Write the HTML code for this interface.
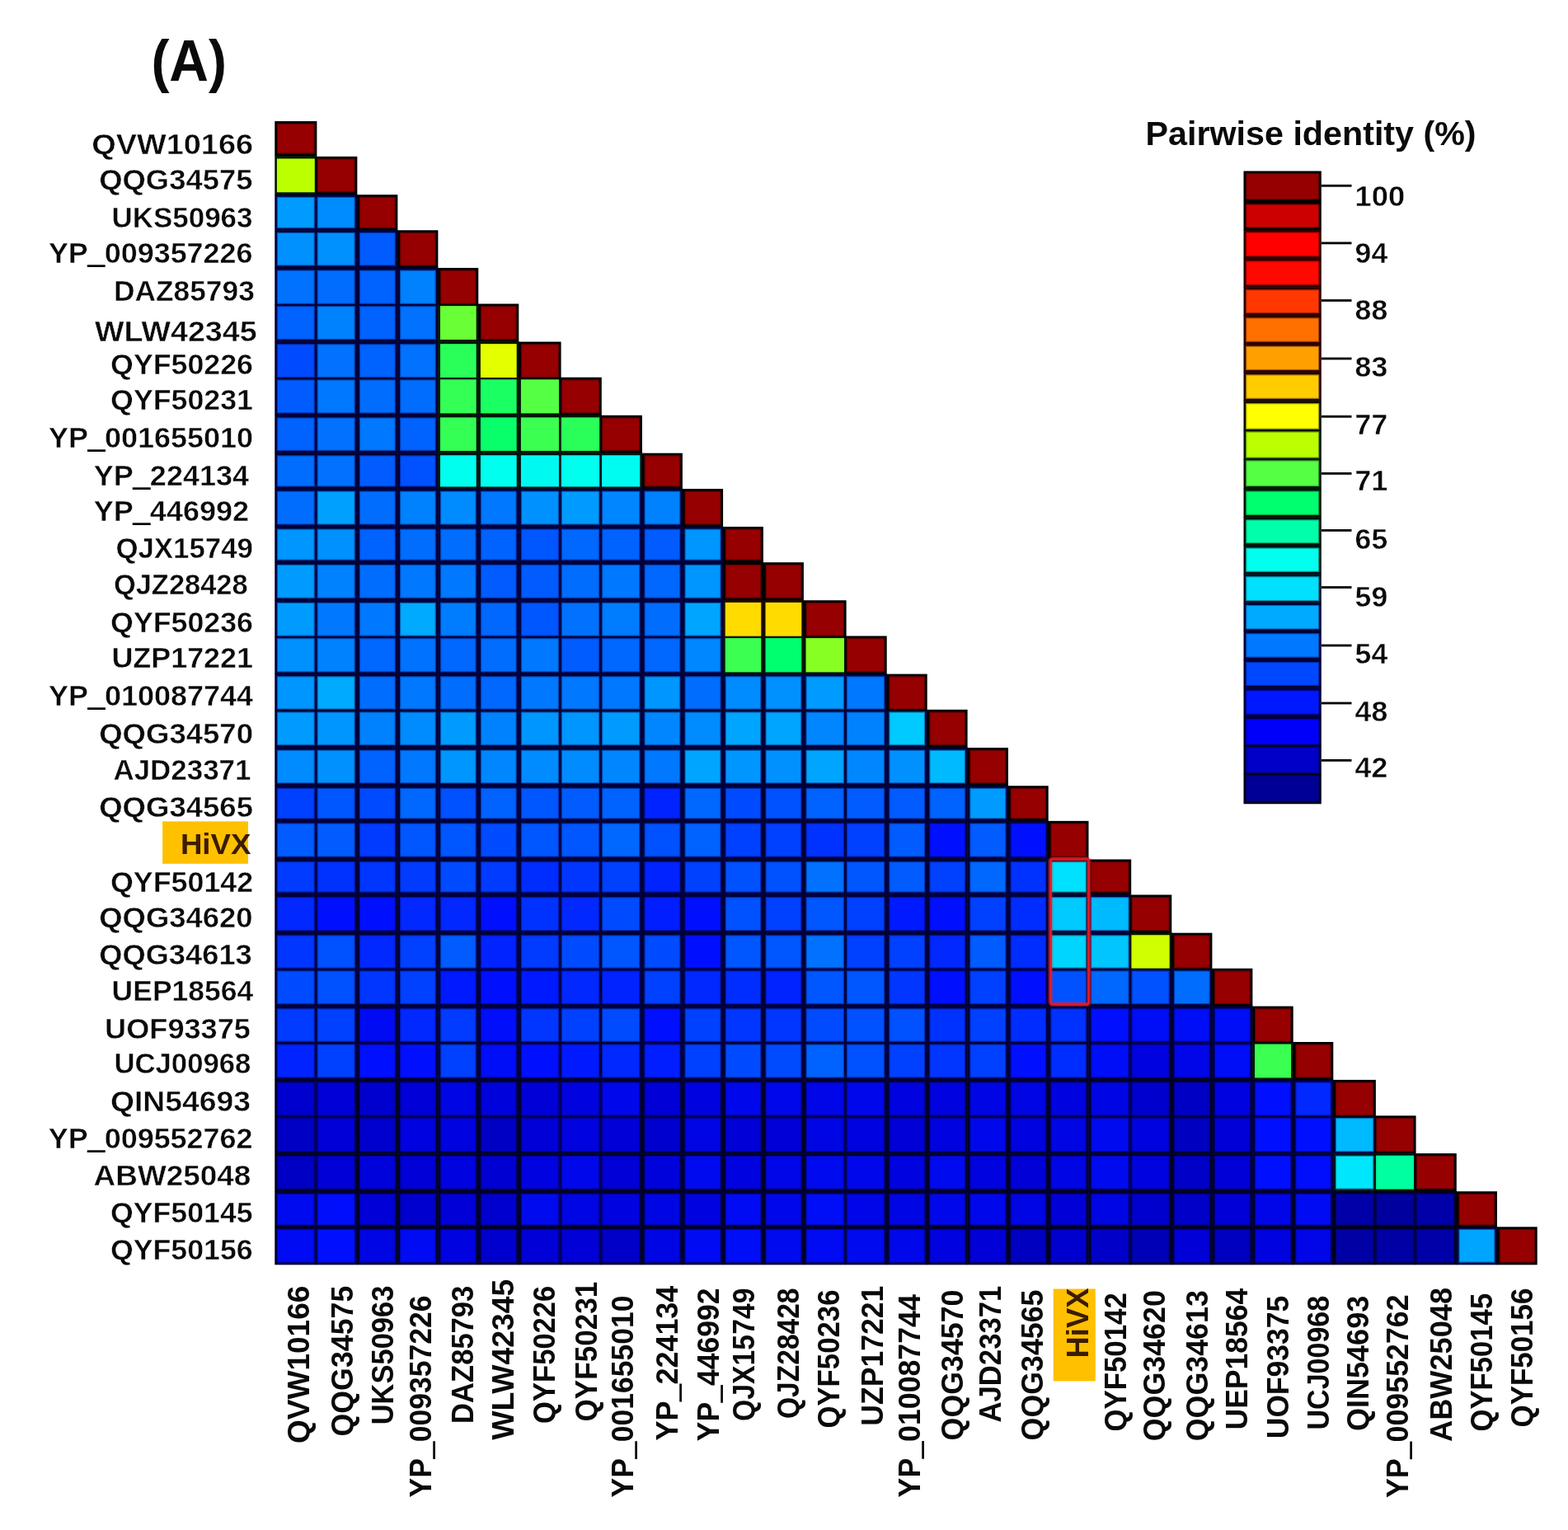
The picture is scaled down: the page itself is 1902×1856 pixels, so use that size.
<!DOCTYPE html>
<html lang="en"><head><meta charset="utf-8"><title>Pairwise identity matrix (A)</title>
<style>html,body{margin:0;padding:0;background:#fff;overflow:hidden}svg{display:block}rect[stroke]{stroke-width:2.4px;stroke-opacity:.4}text{font-family:"Liberation Sans",sans-serif;font-weight:bold;fill:#0a0a0a;stroke:#fff;stroke-width:.45px}text.n{stroke:none}text.h{fill:#3a1c00;stroke:none}tspan{stroke:#0a0a0a;stroke-width:1.3px}</style></head><body>
<svg width="1902" height="1856" viewBox="0 0 1902 1856">
<rect width="1902" height="1856" fill="#fff"/>
<g>
<rect x="333.28" y="147.04" width="51.10" height="42.86" fill="#000000"/>
<rect x="333.28" y="189.30" width="50.22" height="47.00" fill="#001800"/>
<rect x="382.90" y="189.85" width="50.44" height="46.45" fill="#000000"/>
<rect x="333.28" y="235.70" width="50.22" height="44.00" fill="#00003b"/>
<rect x="382.90" y="235.70" width="50.70" height="44.00" fill="#00003b"/>
<rect x="433.00" y="236.16" width="49.39" height="43.54" fill="#000000"/>
<rect x="333.28" y="279.10" width="50.22" height="46.20" fill="#00003b"/>
<rect x="382.90" y="279.10" width="50.70" height="46.20" fill="#00003b"/>
<rect x="433.00" y="279.10" width="49.70" height="46.20" fill="#00003b"/>
<rect x="482.10" y="279.27" width="49.29" height="46.03" fill="#000000"/>
<rect x="333.28" y="324.70" width="50.22" height="45.60" fill="#00003b"/>
<rect x="382.90" y="324.70" width="50.70" height="45.60" fill="#00003b"/>
<rect x="433.00" y="324.70" width="49.70" height="45.60" fill="#00003b"/>
<rect x="482.10" y="324.70" width="49.60" height="45.60" fill="#00003b"/>
<rect x="531.10" y="324.96" width="49.19" height="45.34" fill="#000000"/>
<rect x="333.28" y="369.70" width="50.22" height="45.20" fill="#00003b"/>
<rect x="382.90" y="369.70" width="50.70" height="45.20" fill="#00003b"/>
<rect x="433.00" y="369.70" width="49.70" height="45.20" fill="#00003b"/>
<rect x="482.10" y="369.70" width="49.60" height="45.20" fill="#00003b"/>
<rect x="531.10" y="369.70" width="49.50" height="45.20" fill="#001704"/>
<rect x="580.00" y="368.54" width="49.29" height="46.36" fill="#000000"/>
<rect x="333.28" y="414.30" width="50.22" height="45.20" fill="#00003b"/>
<rect x="382.90" y="414.30" width="50.70" height="45.20" fill="#00003b"/>
<rect x="433.00" y="414.30" width="49.70" height="45.20" fill="#00003b"/>
<rect x="482.10" y="414.30" width="49.60" height="45.20" fill="#00003b"/>
<rect x="531.10" y="414.30" width="49.50" height="45.20" fill="#001707"/>
<rect x="580.00" y="414.30" width="49.60" height="45.20" fill="#0a1300"/>
<rect x="629.00" y="414.56" width="51.58" height="44.93" fill="#000000"/>
<rect x="333.28" y="458.90" width="50.22" height="45.30" fill="#00003b"/>
<rect x="382.90" y="458.90" width="50.70" height="45.30" fill="#00003b"/>
<rect x="433.00" y="458.90" width="49.70" height="45.30" fill="#00003b"/>
<rect x="482.10" y="458.90" width="49.60" height="45.30" fill="#00003b"/>
<rect x="531.10" y="458.90" width="49.50" height="45.30" fill="#001707"/>
<rect x="580.00" y="458.90" width="49.60" height="45.30" fill="#001607"/>
<rect x="629.00" y="458.90" width="50.70" height="45.30" fill="#001705"/>
<rect x="679.10" y="457.74" width="50.68" height="46.46" fill="#000000"/>
<rect x="333.28" y="503.60" width="50.22" height="46.30" fill="#00003b"/>
<rect x="382.90" y="503.60" width="50.70" height="46.30" fill="#00003b"/>
<rect x="433.00" y="503.60" width="49.70" height="46.30" fill="#00003b"/>
<rect x="482.10" y="503.60" width="49.60" height="46.30" fill="#00003b"/>
<rect x="531.10" y="503.60" width="49.50" height="46.30" fill="#001707"/>
<rect x="580.00" y="503.60" width="49.60" height="46.30" fill="#001608"/>
<rect x="629.00" y="503.60" width="50.70" height="46.30" fill="#001706"/>
<rect x="679.10" y="503.60" width="49.80" height="46.30" fill="#001707"/>
<rect x="728.30" y="503.77" width="50.59" height="46.13" fill="#000000"/>
<rect x="333.28" y="549.30" width="50.22" height="44.00" fill="#00003b"/>
<rect x="382.90" y="549.30" width="50.70" height="44.00" fill="#00003b"/>
<rect x="433.00" y="549.30" width="49.70" height="44.00" fill="#00003b"/>
<rect x="482.10" y="549.30" width="49.60" height="44.00" fill="#00003b"/>
<rect x="531.10" y="549.30" width="49.50" height="44.00" fill="#001511"/>
<rect x="580.00" y="549.30" width="49.60" height="44.00" fill="#001511"/>
<rect x="629.00" y="549.30" width="50.70" height="44.00" fill="#001412"/>
<rect x="679.10" y="549.30" width="49.80" height="44.00" fill="#001511"/>
<rect x="728.30" y="549.30" width="50.90" height="44.00" fill="#001412"/>
<rect x="778.60" y="549.66" width="49.29" height="43.64" fill="#000000"/>
<rect x="333.28" y="592.70" width="50.22" height="46.60" fill="#00003b"/>
<rect x="382.90" y="592.70" width="50.70" height="46.60" fill="#00003b"/>
<rect x="433.00" y="592.70" width="49.70" height="46.60" fill="#00003b"/>
<rect x="482.10" y="592.70" width="49.60" height="46.60" fill="#00003b"/>
<rect x="531.10" y="592.70" width="49.50" height="46.60" fill="#00003b"/>
<rect x="580.00" y="592.70" width="49.60" height="46.60" fill="#00003b"/>
<rect x="629.00" y="592.70" width="50.70" height="46.60" fill="#00003b"/>
<rect x="679.10" y="592.70" width="49.80" height="46.60" fill="#00003b"/>
<rect x="728.30" y="592.70" width="50.90" height="46.60" fill="#00003b"/>
<rect x="778.60" y="592.70" width="49.60" height="46.60" fill="#00003b"/>
<rect x="827.60" y="592.97" width="49.49" height="46.33" fill="#000000"/>
<rect x="333.28" y="638.70" width="50.22" height="43.80" fill="#00003b"/>
<rect x="382.90" y="638.70" width="50.70" height="43.80" fill="#00003b"/>
<rect x="433.00" y="638.70" width="49.70" height="43.80" fill="#00003b"/>
<rect x="482.10" y="638.70" width="49.60" height="43.80" fill="#00003b"/>
<rect x="531.10" y="638.70" width="49.50" height="43.80" fill="#00003b"/>
<rect x="580.00" y="638.70" width="49.60" height="43.80" fill="#00003b"/>
<rect x="629.00" y="638.70" width="50.70" height="43.80" fill="#00003b"/>
<rect x="679.10" y="638.70" width="49.80" height="43.80" fill="#00003b"/>
<rect x="728.30" y="638.70" width="50.90" height="43.80" fill="#00003b"/>
<rect x="778.60" y="638.70" width="49.60" height="43.80" fill="#00003b"/>
<rect x="827.60" y="638.70" width="49.80" height="43.80" fill="#00003b"/>
<rect x="876.80" y="638.92" width="49.09" height="43.58" fill="#000000"/>
<rect x="333.28" y="681.90" width="50.22" height="46.70" fill="#00003b"/>
<rect x="382.90" y="681.90" width="50.70" height="46.70" fill="#00003b"/>
<rect x="433.00" y="681.90" width="49.70" height="46.70" fill="#00003b"/>
<rect x="482.10" y="681.90" width="49.60" height="46.70" fill="#00003b"/>
<rect x="531.10" y="681.90" width="49.50" height="46.70" fill="#00003b"/>
<rect x="580.00" y="681.90" width="49.60" height="46.70" fill="#00003b"/>
<rect x="629.00" y="681.90" width="50.70" height="46.70" fill="#00003b"/>
<rect x="679.10" y="681.90" width="49.80" height="46.70" fill="#00003b"/>
<rect x="728.30" y="681.90" width="50.90" height="46.70" fill="#00003b"/>
<rect x="778.60" y="681.90" width="49.60" height="46.70" fill="#00003b"/>
<rect x="827.60" y="681.90" width="49.80" height="46.70" fill="#00003b"/>
<rect x="876.80" y="681.90" width="49.40" height="46.70" fill="#000000"/>
<rect x="925.60" y="682.17" width="49.29" height="46.43" fill="#000000"/>
<rect x="333.28" y="728.00" width="50.22" height="45.20" fill="#00003b"/>
<rect x="382.90" y="728.00" width="50.70" height="45.20" fill="#00003b"/>
<rect x="433.00" y="728.00" width="49.70" height="45.20" fill="#00003b"/>
<rect x="482.10" y="728.00" width="49.60" height="45.20" fill="#00003b"/>
<rect x="531.10" y="728.00" width="49.50" height="45.20" fill="#00003b"/>
<rect x="580.00" y="728.00" width="49.60" height="45.20" fill="#00003b"/>
<rect x="629.00" y="728.00" width="50.70" height="45.20" fill="#00003b"/>
<rect x="679.10" y="728.00" width="49.80" height="45.20" fill="#00003b"/>
<rect x="728.30" y="728.00" width="50.90" height="45.20" fill="#00003b"/>
<rect x="778.60" y="728.00" width="49.60" height="45.20" fill="#00003b"/>
<rect x="827.60" y="728.00" width="49.80" height="45.20" fill="#00003b"/>
<rect x="876.80" y="728.00" width="49.40" height="45.20" fill="#1b0a00"/>
<rect x="925.60" y="728.00" width="49.60" height="45.20" fill="#1b0a00"/>
<rect x="974.60" y="728.22" width="51.98" height="44.98" fill="#000000"/>
<rect x="333.28" y="772.60" width="50.22" height="45.50" fill="#00003b"/>
<rect x="382.90" y="772.60" width="50.70" height="45.50" fill="#00003b"/>
<rect x="433.00" y="772.60" width="49.70" height="45.50" fill="#00003b"/>
<rect x="482.10" y="772.60" width="49.60" height="45.50" fill="#00003b"/>
<rect x="531.10" y="772.60" width="49.50" height="45.50" fill="#00003b"/>
<rect x="580.00" y="772.60" width="49.60" height="45.50" fill="#00003b"/>
<rect x="629.00" y="772.60" width="50.70" height="45.50" fill="#00003b"/>
<rect x="679.10" y="772.60" width="49.80" height="45.50" fill="#00003b"/>
<rect x="728.30" y="772.60" width="50.90" height="45.50" fill="#00003b"/>
<rect x="778.60" y="772.60" width="49.60" height="45.50" fill="#00003b"/>
<rect x="827.60" y="772.60" width="49.80" height="45.50" fill="#00003b"/>
<rect x="876.80" y="772.60" width="49.40" height="45.50" fill="#001706"/>
<rect x="925.60" y="772.60" width="49.60" height="45.50" fill="#001608"/>
<rect x="974.60" y="772.60" width="51.10" height="45.50" fill="#001703"/>
<rect x="1025.10" y="771.49" width="50.59" height="46.61" fill="#000000"/>
<rect x="333.28" y="817.50" width="50.22" height="44.80" fill="#00003b"/>
<rect x="382.90" y="817.50" width="50.70" height="44.80" fill="#00003b"/>
<rect x="433.00" y="817.50" width="49.70" height="44.80" fill="#00003b"/>
<rect x="482.10" y="817.50" width="49.60" height="44.80" fill="#00003b"/>
<rect x="531.10" y="817.50" width="49.50" height="44.80" fill="#00003b"/>
<rect x="580.00" y="817.50" width="49.60" height="44.80" fill="#00003b"/>
<rect x="629.00" y="817.50" width="50.70" height="44.80" fill="#00003b"/>
<rect x="679.10" y="817.50" width="49.80" height="44.80" fill="#00003b"/>
<rect x="728.30" y="817.50" width="50.90" height="44.80" fill="#00003b"/>
<rect x="778.60" y="817.50" width="49.60" height="44.80" fill="#00003b"/>
<rect x="827.60" y="817.50" width="49.80" height="44.80" fill="#00003b"/>
<rect x="876.80" y="817.50" width="49.40" height="44.80" fill="#00003b"/>
<rect x="925.60" y="817.50" width="49.60" height="44.80" fill="#00003b"/>
<rect x="974.60" y="817.50" width="51.10" height="44.80" fill="#00003b"/>
<rect x="1025.10" y="817.50" width="50.90" height="44.80" fill="#00003b"/>
<rect x="1075.40" y="817.62" width="49.29" height="44.68" fill="#000000"/>
<rect x="333.28" y="861.70" width="50.22" height="45.50" fill="#00003b"/>
<rect x="382.90" y="861.70" width="50.70" height="45.50" fill="#00003b"/>
<rect x="433.00" y="861.70" width="49.70" height="45.50" fill="#00003b"/>
<rect x="482.10" y="861.70" width="49.60" height="45.50" fill="#00003b"/>
<rect x="531.10" y="861.70" width="49.50" height="45.50" fill="#00003b"/>
<rect x="580.00" y="861.70" width="49.60" height="45.50" fill="#00003b"/>
<rect x="629.00" y="861.70" width="50.70" height="45.50" fill="#00003b"/>
<rect x="679.10" y="861.70" width="49.80" height="45.50" fill="#00003b"/>
<rect x="728.30" y="861.70" width="50.90" height="45.50" fill="#00003b"/>
<rect x="778.60" y="861.70" width="49.60" height="45.50" fill="#00003b"/>
<rect x="827.60" y="861.70" width="49.80" height="45.50" fill="#00003b"/>
<rect x="876.80" y="861.70" width="49.40" height="45.50" fill="#00003b"/>
<rect x="925.60" y="861.70" width="49.60" height="45.50" fill="#00003b"/>
<rect x="974.60" y="861.70" width="51.10" height="45.50" fill="#00003b"/>
<rect x="1025.10" y="861.70" width="50.90" height="45.50" fill="#00003b"/>
<rect x="1075.40" y="861.70" width="49.60" height="45.50" fill="#00063b"/>
<rect x="1124.40" y="860.82" width="49.19" height="46.38" fill="#000000"/>
<rect x="333.28" y="906.60" width="50.22" height="46.80" fill="#00003b"/>
<rect x="382.90" y="906.60" width="50.70" height="46.80" fill="#00003b"/>
<rect x="433.00" y="906.60" width="49.70" height="46.80" fill="#00003b"/>
<rect x="482.10" y="906.60" width="49.60" height="46.80" fill="#00003b"/>
<rect x="531.10" y="906.60" width="49.50" height="46.80" fill="#00003b"/>
<rect x="580.00" y="906.60" width="49.60" height="46.80" fill="#00003b"/>
<rect x="629.00" y="906.60" width="50.70" height="46.80" fill="#00003b"/>
<rect x="679.10" y="906.60" width="49.80" height="46.80" fill="#00003b"/>
<rect x="728.30" y="906.60" width="50.90" height="46.80" fill="#00003b"/>
<rect x="778.60" y="906.60" width="49.60" height="46.80" fill="#00003b"/>
<rect x="827.60" y="906.60" width="49.80" height="46.80" fill="#00003b"/>
<rect x="876.80" y="906.60" width="49.40" height="46.80" fill="#00003b"/>
<rect x="925.60" y="906.60" width="49.60" height="46.80" fill="#00003b"/>
<rect x="974.60" y="906.60" width="51.10" height="46.80" fill="#00003b"/>
<rect x="1025.10" y="906.60" width="50.90" height="46.80" fill="#00003b"/>
<rect x="1075.40" y="906.60" width="49.60" height="46.80" fill="#00003b"/>
<rect x="1124.40" y="906.60" width="49.50" height="46.80" fill="#00003b"/>
<rect x="1173.30" y="907.05" width="49.69" height="46.35" fill="#000000"/>
<rect x="333.28" y="952.80" width="50.22" height="43.40" fill="#00003b"/>
<rect x="382.90" y="952.80" width="50.70" height="43.40" fill="#00003b"/>
<rect x="433.00" y="952.80" width="49.70" height="43.40" fill="#00003b"/>
<rect x="482.10" y="952.80" width="49.60" height="43.40" fill="#00003b"/>
<rect x="531.10" y="952.80" width="49.50" height="43.40" fill="#00003b"/>
<rect x="580.00" y="952.80" width="49.60" height="43.40" fill="#00003b"/>
<rect x="629.00" y="952.80" width="50.70" height="43.40" fill="#00003b"/>
<rect x="679.10" y="952.80" width="49.80" height="43.40" fill="#00003b"/>
<rect x="728.30" y="952.80" width="50.90" height="43.40" fill="#00003b"/>
<rect x="778.60" y="952.80" width="49.60" height="43.40" fill="#00003b"/>
<rect x="827.60" y="952.80" width="49.80" height="43.40" fill="#00003b"/>
<rect x="876.80" y="952.80" width="49.40" height="43.40" fill="#00003b"/>
<rect x="925.60" y="952.80" width="49.60" height="43.40" fill="#00003b"/>
<rect x="974.60" y="952.80" width="51.10" height="43.40" fill="#00003b"/>
<rect x="1025.10" y="952.80" width="50.90" height="43.40" fill="#00003b"/>
<rect x="1075.40" y="952.80" width="49.60" height="43.40" fill="#00003b"/>
<rect x="1124.40" y="952.80" width="49.50" height="43.40" fill="#00003b"/>
<rect x="1173.30" y="952.80" width="50.00" height="43.40" fill="#00003b"/>
<rect x="1222.70" y="953.25" width="48.99" height="42.94" fill="#000000"/>
<rect x="333.28" y="995.60" width="50.22" height="47.00" fill="#00003b"/>
<rect x="382.90" y="995.60" width="50.70" height="47.00" fill="#00003b"/>
<rect x="433.00" y="995.60" width="49.70" height="47.00" fill="#00003b"/>
<rect x="482.10" y="995.60" width="49.60" height="47.00" fill="#00003b"/>
<rect x="531.10" y="995.60" width="49.50" height="47.00" fill="#00003b"/>
<rect x="580.00" y="995.60" width="49.60" height="47.00" fill="#00003b"/>
<rect x="629.00" y="995.60" width="50.70" height="47.00" fill="#00003b"/>
<rect x="679.10" y="995.60" width="49.80" height="47.00" fill="#00003b"/>
<rect x="728.30" y="995.60" width="50.90" height="47.00" fill="#00003b"/>
<rect x="778.60" y="995.60" width="49.60" height="47.00" fill="#00003b"/>
<rect x="827.60" y="995.60" width="49.80" height="47.00" fill="#00003b"/>
<rect x="876.80" y="995.60" width="49.40" height="47.00" fill="#00003b"/>
<rect x="925.60" y="995.60" width="49.60" height="47.00" fill="#00003b"/>
<rect x="974.60" y="995.60" width="51.10" height="47.00" fill="#00003b"/>
<rect x="1025.10" y="995.60" width="50.90" height="47.00" fill="#00003b"/>
<rect x="1075.40" y="995.60" width="49.60" height="47.00" fill="#00003b"/>
<rect x="1124.40" y="995.60" width="49.50" height="47.00" fill="#00003b"/>
<rect x="1173.30" y="995.60" width="50.00" height="47.00" fill="#00003b"/>
<rect x="1222.70" y="995.60" width="49.30" height="47.00" fill="#00003b"/>
<rect x="1271.40" y="995.87" width="49.09" height="46.73" fill="#000000"/>
<rect x="333.28" y="1042.00" width="50.22" height="43.60" fill="#00003b"/>
<rect x="382.90" y="1042.00" width="50.70" height="43.60" fill="#00003b"/>
<rect x="433.00" y="1042.00" width="49.70" height="43.60" fill="#00003b"/>
<rect x="482.10" y="1042.00" width="49.60" height="43.60" fill="#00003b"/>
<rect x="531.10" y="1042.00" width="49.50" height="43.60" fill="#00003b"/>
<rect x="580.00" y="1042.00" width="49.60" height="43.60" fill="#00003b"/>
<rect x="629.00" y="1042.00" width="50.70" height="43.60" fill="#00003b"/>
<rect x="679.10" y="1042.00" width="49.80" height="43.60" fill="#00003b"/>
<rect x="728.30" y="1042.00" width="50.90" height="43.60" fill="#00003b"/>
<rect x="778.60" y="1042.00" width="49.60" height="43.60" fill="#00003b"/>
<rect x="827.60" y="1042.00" width="49.80" height="43.60" fill="#00003b"/>
<rect x="876.80" y="1042.00" width="49.40" height="43.60" fill="#00003b"/>
<rect x="925.60" y="1042.00" width="49.60" height="43.60" fill="#00003b"/>
<rect x="974.60" y="1042.00" width="51.10" height="43.60" fill="#00003b"/>
<rect x="1025.10" y="1042.00" width="50.90" height="43.60" fill="#00003b"/>
<rect x="1075.40" y="1042.00" width="49.60" height="43.60" fill="#00003b"/>
<rect x="1124.40" y="1042.00" width="49.50" height="43.60" fill="#00003b"/>
<rect x="1173.30" y="1042.00" width="50.00" height="43.60" fill="#00003b"/>
<rect x="1222.70" y="1042.00" width="49.30" height="43.60" fill="#00003b"/>
<rect x="1271.40" y="1042.00" width="49.40" height="43.60" fill="#001124"/>
<rect x="1320.20" y="1042.46" width="51.98" height="43.14" fill="#000000"/>
<rect x="333.28" y="1085.00" width="50.22" height="47.00" fill="#00003b"/>
<rect x="382.90" y="1085.00" width="50.70" height="47.00" fill="#00003b"/>
<rect x="433.00" y="1085.00" width="49.70" height="47.00" fill="#00003b"/>
<rect x="482.10" y="1085.00" width="49.60" height="47.00" fill="#00003b"/>
<rect x="531.10" y="1085.00" width="49.50" height="47.00" fill="#00003b"/>
<rect x="580.00" y="1085.00" width="49.60" height="47.00" fill="#00003b"/>
<rect x="629.00" y="1085.00" width="50.70" height="47.00" fill="#00003b"/>
<rect x="679.10" y="1085.00" width="49.80" height="47.00" fill="#00003b"/>
<rect x="728.30" y="1085.00" width="50.90" height="47.00" fill="#00003b"/>
<rect x="778.60" y="1085.00" width="49.60" height="47.00" fill="#00003b"/>
<rect x="827.60" y="1085.00" width="49.80" height="47.00" fill="#00003b"/>
<rect x="876.80" y="1085.00" width="49.40" height="47.00" fill="#00003b"/>
<rect x="925.60" y="1085.00" width="49.60" height="47.00" fill="#00003b"/>
<rect x="974.60" y="1085.00" width="51.10" height="47.00" fill="#00003b"/>
<rect x="1025.10" y="1085.00" width="50.90" height="47.00" fill="#00003b"/>
<rect x="1075.40" y="1085.00" width="49.60" height="47.00" fill="#00003b"/>
<rect x="1124.40" y="1085.00" width="49.50" height="47.00" fill="#00003b"/>
<rect x="1173.30" y="1085.00" width="50.00" height="47.00" fill="#00003b"/>
<rect x="1222.70" y="1085.00" width="49.30" height="47.00" fill="#00003b"/>
<rect x="1271.40" y="1085.00" width="49.40" height="47.00" fill="#00063b"/>
<rect x="1320.20" y="1085.00" width="51.10" height="47.00" fill="#00003b"/>
<rect x="1370.70" y="1085.46" width="50.59" height="46.54" fill="#000000"/>
<rect x="333.28" y="1131.40" width="50.22" height="44.90" fill="#00003b"/>
<rect x="382.90" y="1131.40" width="50.70" height="44.90" fill="#00003b"/>
<rect x="433.00" y="1131.40" width="49.70" height="44.90" fill="#00003b"/>
<rect x="482.10" y="1131.40" width="49.60" height="44.90" fill="#00003b"/>
<rect x="531.10" y="1131.40" width="49.50" height="44.90" fill="#00003b"/>
<rect x="580.00" y="1131.40" width="49.60" height="44.90" fill="#00003b"/>
<rect x="629.00" y="1131.40" width="50.70" height="44.90" fill="#00003b"/>
<rect x="679.10" y="1131.40" width="49.80" height="44.90" fill="#00003b"/>
<rect x="728.30" y="1131.40" width="50.90" height="44.90" fill="#00003b"/>
<rect x="778.60" y="1131.40" width="49.60" height="44.90" fill="#00003b"/>
<rect x="827.60" y="1131.40" width="49.80" height="44.90" fill="#00003b"/>
<rect x="876.80" y="1131.40" width="49.40" height="44.90" fill="#00003b"/>
<rect x="925.60" y="1131.40" width="49.60" height="44.90" fill="#00003b"/>
<rect x="974.60" y="1131.40" width="51.10" height="44.90" fill="#00003b"/>
<rect x="1025.10" y="1131.40" width="50.90" height="44.90" fill="#00003b"/>
<rect x="1075.40" y="1131.40" width="49.60" height="44.90" fill="#00003b"/>
<rect x="1124.40" y="1131.40" width="49.50" height="44.90" fill="#00003b"/>
<rect x="1173.30" y="1131.40" width="50.00" height="44.90" fill="#00003b"/>
<rect x="1222.70" y="1131.40" width="49.30" height="44.90" fill="#00003b"/>
<rect x="1271.40" y="1131.40" width="49.40" height="44.90" fill="#000e31"/>
<rect x="1320.20" y="1131.40" width="51.10" height="44.90" fill="#00013b"/>
<rect x="1370.70" y="1131.40" width="50.90" height="44.90" fill="#041600"/>
<rect x="1421.00" y="1131.67" width="49.39" height="44.63" fill="#000000"/>
<rect x="333.28" y="1175.70" width="50.22" height="45.30" fill="#00003b"/>
<rect x="382.90" y="1175.70" width="50.70" height="45.30" fill="#00003b"/>
<rect x="433.00" y="1175.70" width="49.70" height="45.30" fill="#00003b"/>
<rect x="482.10" y="1175.70" width="49.60" height="45.30" fill="#00003b"/>
<rect x="531.10" y="1175.70" width="49.50" height="45.30" fill="#00003b"/>
<rect x="580.00" y="1175.70" width="49.60" height="45.30" fill="#00003b"/>
<rect x="629.00" y="1175.70" width="50.70" height="45.30" fill="#00003b"/>
<rect x="679.10" y="1175.70" width="49.80" height="45.30" fill="#00003b"/>
<rect x="728.30" y="1175.70" width="50.90" height="45.30" fill="#00003b"/>
<rect x="778.60" y="1175.70" width="49.60" height="45.30" fill="#00003b"/>
<rect x="827.60" y="1175.70" width="49.80" height="45.30" fill="#00003b"/>
<rect x="876.80" y="1175.70" width="49.40" height="45.30" fill="#00003b"/>
<rect x="925.60" y="1175.70" width="49.60" height="45.30" fill="#00003b"/>
<rect x="974.60" y="1175.70" width="51.10" height="45.30" fill="#00003b"/>
<rect x="1025.10" y="1175.70" width="50.90" height="45.30" fill="#00003b"/>
<rect x="1075.40" y="1175.70" width="49.60" height="45.30" fill="#00003b"/>
<rect x="1124.40" y="1175.70" width="49.50" height="45.30" fill="#00003b"/>
<rect x="1173.30" y="1175.70" width="50.00" height="45.30" fill="#00003b"/>
<rect x="1222.70" y="1175.70" width="49.30" height="45.30" fill="#00003b"/>
<rect x="1271.40" y="1175.70" width="49.40" height="45.30" fill="#00003b"/>
<rect x="1320.20" y="1175.70" width="51.10" height="45.30" fill="#00003b"/>
<rect x="1370.70" y="1175.70" width="50.90" height="45.30" fill="#00003b"/>
<rect x="1421.00" y="1175.70" width="49.70" height="45.30" fill="#00003b"/>
<rect x="1470.10" y="1174.78" width="49.29" height="46.22" fill="#000000"/>
<rect x="333.28" y="1220.40" width="50.22" height="45.10" fill="#00003b"/>
<rect x="382.90" y="1220.40" width="50.70" height="45.10" fill="#00003b"/>
<rect x="433.00" y="1220.40" width="49.70" height="45.10" fill="#000031"/>
<rect x="482.10" y="1220.40" width="49.60" height="45.10" fill="#00003b"/>
<rect x="531.10" y="1220.40" width="49.50" height="45.10" fill="#00003b"/>
<rect x="580.00" y="1220.40" width="49.60" height="45.10" fill="#000037"/>
<rect x="629.00" y="1220.40" width="50.70" height="45.10" fill="#00003b"/>
<rect x="679.10" y="1220.40" width="49.80" height="45.10" fill="#00003b"/>
<rect x="728.30" y="1220.40" width="50.90" height="45.10" fill="#00003b"/>
<rect x="778.60" y="1220.40" width="49.60" height="45.10" fill="#00003b"/>
<rect x="827.60" y="1220.40" width="49.80" height="45.10" fill="#00003b"/>
<rect x="876.80" y="1220.40" width="49.40" height="45.10" fill="#00003b"/>
<rect x="925.60" y="1220.40" width="49.60" height="45.10" fill="#00003b"/>
<rect x="974.60" y="1220.40" width="51.10" height="45.10" fill="#00003b"/>
<rect x="1025.10" y="1220.40" width="50.90" height="45.10" fill="#00003b"/>
<rect x="1075.40" y="1220.40" width="49.60" height="45.10" fill="#00003b"/>
<rect x="1124.40" y="1220.40" width="49.50" height="45.10" fill="#00003b"/>
<rect x="1173.30" y="1220.40" width="50.00" height="45.10" fill="#00003b"/>
<rect x="1222.70" y="1220.40" width="49.30" height="45.10" fill="#00003b"/>
<rect x="1271.40" y="1220.40" width="49.40" height="45.10" fill="#00003b"/>
<rect x="1320.20" y="1220.40" width="51.10" height="45.10" fill="#00003b"/>
<rect x="1370.70" y="1220.40" width="50.90" height="45.10" fill="#000033"/>
<rect x="1421.00" y="1220.40" width="49.70" height="45.10" fill="#000033"/>
<rect x="1470.10" y="1220.40" width="49.60" height="45.10" fill="#000033"/>
<rect x="1519.10" y="1220.62" width="49.59" height="44.88" fill="#000000"/>
<rect x="333.28" y="1264.90" width="50.22" height="45.40" fill="#00003b"/>
<rect x="382.90" y="1264.90" width="50.70" height="45.40" fill="#00003b"/>
<rect x="433.00" y="1264.90" width="49.70" height="45.40" fill="#00003b"/>
<rect x="482.10" y="1264.90" width="49.60" height="45.40" fill="#00003b"/>
<rect x="531.10" y="1264.90" width="49.50" height="45.40" fill="#00003b"/>
<rect x="580.00" y="1264.90" width="49.60" height="45.40" fill="#000033"/>
<rect x="629.00" y="1264.90" width="50.70" height="45.40" fill="#00003b"/>
<rect x="679.10" y="1264.90" width="49.80" height="45.40" fill="#00003b"/>
<rect x="728.30" y="1264.90" width="50.90" height="45.40" fill="#00003b"/>
<rect x="778.60" y="1264.90" width="49.60" height="45.40" fill="#00003b"/>
<rect x="827.60" y="1264.90" width="49.80" height="45.40" fill="#00003b"/>
<rect x="876.80" y="1264.90" width="49.40" height="45.40" fill="#00003b"/>
<rect x="925.60" y="1264.90" width="49.60" height="45.40" fill="#00003b"/>
<rect x="974.60" y="1264.90" width="51.10" height="45.40" fill="#00003b"/>
<rect x="1025.10" y="1264.90" width="50.90" height="45.40" fill="#00003b"/>
<rect x="1075.40" y="1264.90" width="49.60" height="45.40" fill="#00003b"/>
<rect x="1124.40" y="1264.90" width="49.50" height="45.40" fill="#00003b"/>
<rect x="1173.30" y="1264.90" width="50.00" height="45.40" fill="#00003b"/>
<rect x="1222.70" y="1264.90" width="49.30" height="45.40" fill="#00003b"/>
<rect x="1271.40" y="1264.90" width="49.40" height="45.40" fill="#00003b"/>
<rect x="1320.20" y="1264.90" width="51.10" height="45.40" fill="#000033"/>
<rect x="1370.70" y="1264.90" width="50.90" height="45.40" fill="#00002d"/>
<rect x="1421.00" y="1264.90" width="49.70" height="45.40" fill="#00002e"/>
<rect x="1470.10" y="1264.90" width="49.60" height="45.40" fill="#000033"/>
<rect x="1519.10" y="1264.90" width="49.90" height="45.40" fill="#001706"/>
<rect x="1568.40" y="1263.98" width="48.89" height="46.32" fill="#000000"/>
<rect x="333.28" y="1309.70" width="50.22" height="45.30" fill="#000029"/>
<rect x="382.90" y="1309.70" width="50.70" height="45.30" fill="#00002b"/>
<rect x="433.00" y="1309.70" width="49.70" height="45.30" fill="#000029"/>
<rect x="482.10" y="1309.70" width="49.60" height="45.30" fill="#00002b"/>
<rect x="531.10" y="1309.70" width="49.50" height="45.30" fill="#00002d"/>
<rect x="580.00" y="1309.70" width="49.60" height="45.30" fill="#00002c"/>
<rect x="629.00" y="1309.70" width="50.70" height="45.30" fill="#00002b"/>
<rect x="679.10" y="1309.70" width="49.80" height="45.30" fill="#00002d"/>
<rect x="728.30" y="1309.70" width="50.90" height="45.30" fill="#00002f"/>
<rect x="778.60" y="1309.70" width="49.60" height="45.30" fill="#00002b"/>
<rect x="827.60" y="1309.70" width="49.80" height="45.30" fill="#00002d"/>
<rect x="876.80" y="1309.70" width="49.40" height="45.30" fill="#00002f"/>
<rect x="925.60" y="1309.70" width="49.60" height="45.30" fill="#00002f"/>
<rect x="974.60" y="1309.70" width="51.10" height="45.30" fill="#00002e"/>
<rect x="1025.10" y="1309.70" width="50.90" height="45.30" fill="#00002f"/>
<rect x="1075.40" y="1309.70" width="49.60" height="45.30" fill="#00002d"/>
<rect x="1124.40" y="1309.70" width="49.50" height="45.30" fill="#00002d"/>
<rect x="1173.30" y="1309.70" width="50.00" height="45.30" fill="#00002d"/>
<rect x="1222.70" y="1309.70" width="49.30" height="45.30" fill="#00002d"/>
<rect x="1271.40" y="1309.70" width="49.40" height="45.30" fill="#00002d"/>
<rect x="1320.20" y="1309.70" width="51.10" height="45.30" fill="#00002d"/>
<rect x="1370.70" y="1309.70" width="50.90" height="45.30" fill="#000029"/>
<rect x="1421.00" y="1309.70" width="49.70" height="45.30" fill="#000027"/>
<rect x="1470.10" y="1309.70" width="49.60" height="45.30" fill="#00002d"/>
<rect x="1519.10" y="1309.70" width="49.90" height="45.30" fill="#00003b"/>
<rect x="1568.40" y="1309.70" width="49.20" height="45.30" fill="#00003b"/>
<rect x="1617.00" y="1309.92" width="51.88" height="45.08" fill="#000000"/>
<rect x="333.28" y="1354.40" width="50.22" height="45.40" fill="#000027"/>
<rect x="382.90" y="1354.40" width="50.70" height="45.40" fill="#00002b"/>
<rect x="433.00" y="1354.40" width="49.70" height="45.40" fill="#000029"/>
<rect x="482.10" y="1354.40" width="49.60" height="45.40" fill="#00002d"/>
<rect x="531.10" y="1354.40" width="49.50" height="45.40" fill="#00002d"/>
<rect x="580.00" y="1354.40" width="49.60" height="45.40" fill="#000027"/>
<rect x="629.00" y="1354.40" width="50.70" height="45.40" fill="#00002b"/>
<rect x="679.10" y="1354.40" width="49.80" height="45.40" fill="#00002d"/>
<rect x="728.30" y="1354.40" width="50.90" height="45.40" fill="#00002b"/>
<rect x="778.60" y="1354.40" width="49.60" height="45.40" fill="#000029"/>
<rect x="827.60" y="1354.40" width="49.80" height="45.40" fill="#00002d"/>
<rect x="876.80" y="1354.40" width="49.40" height="45.40" fill="#00002b"/>
<rect x="925.60" y="1354.40" width="49.60" height="45.40" fill="#00002b"/>
<rect x="974.60" y="1354.40" width="51.10" height="45.40" fill="#00002d"/>
<rect x="1025.10" y="1354.40" width="50.90" height="45.40" fill="#00002d"/>
<rect x="1075.40" y="1354.40" width="49.60" height="45.40" fill="#00002b"/>
<rect x="1124.40" y="1354.40" width="49.50" height="45.40" fill="#00002d"/>
<rect x="1173.30" y="1354.40" width="50.00" height="45.40" fill="#00002f"/>
<rect x="1222.70" y="1354.40" width="49.30" height="45.40" fill="#00002d"/>
<rect x="1271.40" y="1354.40" width="49.40" height="45.40" fill="#00002d"/>
<rect x="1320.20" y="1354.40" width="51.10" height="45.40" fill="#000030"/>
<rect x="1370.70" y="1354.40" width="50.90" height="45.40" fill="#00002d"/>
<rect x="1421.00" y="1354.40" width="49.70" height="45.40" fill="#000026"/>
<rect x="1470.10" y="1354.40" width="49.60" height="45.40" fill="#00002b"/>
<rect x="1519.10" y="1354.40" width="49.90" height="45.40" fill="#00003b"/>
<rect x="1568.40" y="1354.40" width="49.20" height="45.40" fill="#00003b"/>
<rect x="1617.00" y="1354.40" width="51.00" height="45.40" fill="#00003b"/>
<rect x="1667.40" y="1353.38" width="50.18" height="46.42" fill="#000000"/>
<rect x="333.28" y="1399.20" width="50.22" height="46.30" fill="#000027"/>
<rect x="382.90" y="1399.20" width="50.70" height="46.30" fill="#00002b"/>
<rect x="433.00" y="1399.20" width="49.70" height="46.30" fill="#00002c"/>
<rect x="482.10" y="1399.20" width="49.60" height="46.30" fill="#00002b"/>
<rect x="531.10" y="1399.20" width="49.50" height="46.30" fill="#00002d"/>
<rect x="580.00" y="1399.20" width="49.60" height="46.30" fill="#00002a"/>
<rect x="629.00" y="1399.20" width="50.70" height="46.30" fill="#00002d"/>
<rect x="679.10" y="1399.20" width="49.80" height="46.30" fill="#00002f"/>
<rect x="728.30" y="1399.20" width="50.90" height="46.30" fill="#00002b"/>
<rect x="778.60" y="1399.20" width="49.60" height="46.30" fill="#00002c"/>
<rect x="827.60" y="1399.20" width="49.80" height="46.30" fill="#000030"/>
<rect x="876.80" y="1399.20" width="49.40" height="46.30" fill="#00002d"/>
<rect x="925.60" y="1399.20" width="49.60" height="46.30" fill="#00002e"/>
<rect x="974.60" y="1399.20" width="51.10" height="46.30" fill="#000030"/>
<rect x="1025.10" y="1399.20" width="50.90" height="46.30" fill="#00002f"/>
<rect x="1075.40" y="1399.20" width="49.60" height="46.30" fill="#00002d"/>
<rect x="1124.40" y="1399.20" width="49.50" height="46.30" fill="#000030"/>
<rect x="1173.30" y="1399.20" width="50.00" height="46.30" fill="#00002d"/>
<rect x="1222.70" y="1399.20" width="49.30" height="46.30" fill="#00002b"/>
<rect x="1271.40" y="1399.20" width="49.40" height="46.30" fill="#00002d"/>
<rect x="1320.20" y="1399.20" width="51.10" height="46.30" fill="#000030"/>
<rect x="1370.70" y="1399.20" width="50.90" height="46.30" fill="#00002d"/>
<rect x="1421.00" y="1399.20" width="49.70" height="46.30" fill="#000028"/>
<rect x="1470.10" y="1399.20" width="49.60" height="46.30" fill="#00002b"/>
<rect x="1519.10" y="1399.20" width="49.90" height="46.30" fill="#00003b"/>
<rect x="1568.40" y="1399.20" width="49.20" height="46.30" fill="#000037"/>
<rect x="1617.00" y="1399.20" width="51.00" height="46.30" fill="#00121e"/>
<rect x="1667.40" y="1399.20" width="49.30" height="46.30" fill="#00160c"/>
<rect x="1716.10" y="1399.13" width="50.69" height="46.37" fill="#000000"/>
<rect x="333.28" y="1444.90" width="50.22" height="44.10" fill="#000030"/>
<rect x="382.90" y="1444.90" width="50.70" height="44.10" fill="#000037"/>
<rect x="433.00" y="1444.90" width="49.70" height="44.10" fill="#00002b"/>
<rect x="482.10" y="1444.90" width="49.60" height="44.10" fill="#000029"/>
<rect x="531.10" y="1444.90" width="49.50" height="44.10" fill="#00002b"/>
<rect x="580.00" y="1444.90" width="49.60" height="44.10" fill="#000029"/>
<rect x="629.00" y="1444.90" width="50.70" height="44.10" fill="#000030"/>
<rect x="679.10" y="1444.90" width="49.80" height="44.10" fill="#00002d"/>
<rect x="728.30" y="1444.90" width="50.90" height="44.10" fill="#00002d"/>
<rect x="778.60" y="1444.90" width="49.60" height="44.10" fill="#00002d"/>
<rect x="827.60" y="1444.90" width="49.80" height="44.10" fill="#00002d"/>
<rect x="876.80" y="1444.90" width="49.40" height="44.10" fill="#000031"/>
<rect x="925.60" y="1444.90" width="49.60" height="44.10" fill="#00002f"/>
<rect x="974.60" y="1444.90" width="51.10" height="44.10" fill="#000033"/>
<rect x="1025.10" y="1444.90" width="50.90" height="44.10" fill="#00002e"/>
<rect x="1075.40" y="1444.90" width="49.60" height="44.10" fill="#00002d"/>
<rect x="1124.40" y="1444.90" width="49.50" height="44.10" fill="#00002f"/>
<rect x="1173.30" y="1444.90" width="50.00" height="44.10" fill="#00002f"/>
<rect x="1222.70" y="1444.90" width="49.30" height="44.10" fill="#00002d"/>
<rect x="1271.40" y="1444.90" width="49.40" height="44.10" fill="#00002b"/>
<rect x="1320.20" y="1444.90" width="51.10" height="44.10" fill="#00002d"/>
<rect x="1370.70" y="1444.90" width="50.90" height="44.10" fill="#000029"/>
<rect x="1421.00" y="1444.90" width="49.70" height="44.10" fill="#000028"/>
<rect x="1470.10" y="1444.90" width="49.60" height="44.10" fill="#00002b"/>
<rect x="1519.10" y="1444.90" width="49.90" height="44.10" fill="#00002e"/>
<rect x="1568.40" y="1444.90" width="49.20" height="44.10" fill="#000031"/>
<rect x="1617.00" y="1444.90" width="51.00" height="44.10" fill="#000022"/>
<rect x="1667.40" y="1444.90" width="49.30" height="44.10" fill="#000020"/>
<rect x="1716.10" y="1444.90" width="51.00" height="44.10" fill="#000022"/>
<rect x="1766.50" y="1445.21" width="49.49" height="43.79" fill="#000000"/>
<rect x="333.28" y="1488.40" width="50.22" height="45.92" fill="#000031"/>
<rect x="382.90" y="1488.40" width="50.70" height="45.92" fill="#00003b"/>
<rect x="433.00" y="1488.40" width="49.70" height="45.92" fill="#00002d"/>
<rect x="482.10" y="1488.40" width="49.60" height="45.92" fill="#000031"/>
<rect x="531.10" y="1488.40" width="49.50" height="45.92" fill="#00002d"/>
<rect x="580.00" y="1488.40" width="49.60" height="45.92" fill="#000029"/>
<rect x="629.00" y="1488.40" width="50.70" height="45.92" fill="#00002b"/>
<rect x="679.10" y="1488.40" width="49.80" height="45.92" fill="#00002b"/>
<rect x="728.30" y="1488.40" width="50.90" height="45.92" fill="#000028"/>
<rect x="778.60" y="1488.40" width="49.60" height="45.92" fill="#00002d"/>
<rect x="827.60" y="1488.40" width="49.80" height="45.92" fill="#000031"/>
<rect x="876.80" y="1488.40" width="49.40" height="45.92" fill="#000033"/>
<rect x="925.60" y="1488.40" width="49.60" height="45.92" fill="#000030"/>
<rect x="974.60" y="1488.40" width="51.10" height="45.92" fill="#000031"/>
<rect x="1025.10" y="1488.40" width="50.90" height="45.92" fill="#000030"/>
<rect x="1075.40" y="1488.40" width="49.60" height="45.92" fill="#00002f"/>
<rect x="1124.40" y="1488.40" width="49.50" height="45.92" fill="#00002d"/>
<rect x="1173.30" y="1488.40" width="50.00" height="45.92" fill="#00002b"/>
<rect x="1222.70" y="1488.40" width="49.30" height="45.92" fill="#000026"/>
<rect x="1271.40" y="1488.40" width="49.40" height="45.92" fill="#000029"/>
<rect x="1320.20" y="1488.40" width="51.10" height="45.92" fill="#000028"/>
<rect x="1370.70" y="1488.40" width="50.90" height="45.92" fill="#000024"/>
<rect x="1421.00" y="1488.40" width="49.70" height="45.92" fill="#00002b"/>
<rect x="1470.10" y="1488.40" width="49.60" height="45.92" fill="#000026"/>
<rect x="1519.10" y="1488.40" width="49.90" height="45.92" fill="#00002d"/>
<rect x="1568.40" y="1488.40" width="49.20" height="45.92" fill="#00002e"/>
<rect x="1617.00" y="1488.40" width="51.00" height="45.92" fill="#000021"/>
<rect x="1667.40" y="1488.40" width="49.30" height="45.92" fill="#000021"/>
<rect x="1716.10" y="1488.40" width="51.00" height="45.92" fill="#000022"/>
<rect x="1766.50" y="1488.40" width="49.80" height="45.92" fill="#00003b"/>
<rect x="1815.70" y="1488.29" width="48.98" height="46.03" fill="#000000"/>
<rect x="335.88" y="149.64" width="45.90" height="37.11" fill="#960000" stroke="#000000"/>
<rect x="335.88" y="192.45" width="45.90" height="40.80" fill="#bbff00"/>
<rect x="384.62" y="192.45" width="46.11" height="40.80" fill="#960000" stroke="#000000"/>
<rect x="335.88" y="238.75" width="45.90" height="38.17" fill="#009bff" stroke="#00003b"/>
<rect x="384.62" y="238.75" width="46.11" height="38.17" fill="#008cff" stroke="#00003b"/>
<rect x="435.87" y="238.75" width="43.92" height="38.17" fill="#960000" stroke="#000000"/>
<rect x="335.88" y="281.87" width="45.90" height="40.56" fill="#0091ff" stroke="#00003b"/>
<rect x="384.62" y="281.87" width="46.11" height="40.56" fill="#0091ff" stroke="#00003b"/>
<rect x="435.87" y="281.87" width="43.92" height="40.56" fill="#005cff" stroke="#00003b"/>
<rect x="485.01" y="281.87" width="43.78" height="40.56" fill="#960000" stroke="#000000"/>
<rect x="335.88" y="327.56" width="45.90" height="41.30" fill="#0072ff" stroke="#00003b"/>
<rect x="384.62" y="327.56" width="46.11" height="41.30" fill="#006dff" stroke="#00003b"/>
<rect x="435.87" y="327.56" width="43.92" height="41.30" fill="#0062ff" stroke="#00003b"/>
<rect x="485.01" y="327.56" width="43.78" height="41.30" fill="#0082ff" stroke="#00003b"/>
<rect x="534.01" y="327.56" width="43.68" height="41.30" fill="#960000" stroke="#000000"/>
<rect x="335.88" y="371.14" width="45.90" height="40.90" fill="#0062ff" stroke="#00003b"/>
<rect x="384.62" y="371.14" width="46.11" height="40.90" fill="#0082ff" stroke="#00003b"/>
<rect x="435.87" y="371.14" width="43.92" height="40.90" fill="#0062ff" stroke="#00003b"/>
<rect x="485.01" y="371.14" width="43.78" height="40.90" fill="#0072ff" stroke="#00003b"/>
<rect x="534.01" y="371.14" width="43.68" height="40.90" fill="#69ff36"/>
<rect x="582.91" y="371.14" width="43.78" height="40.90" fill="#960000" stroke="#000000"/>
<rect x="335.88" y="417.17" width="45.90" height="40.89" fill="#004bff" stroke="#00003b"/>
<rect x="384.62" y="417.17" width="46.11" height="40.89" fill="#0072ff" stroke="#00003b"/>
<rect x="435.87" y="417.17" width="43.92" height="40.89" fill="#0062ff" stroke="#00003b"/>
<rect x="485.01" y="417.17" width="43.78" height="40.89" fill="#0072ff" stroke="#00003b"/>
<rect x="534.01" y="417.17" width="43.68" height="40.89" fill="#2aff59"/>
<rect x="582.91" y="417.17" width="43.78" height="40.89" fill="#e4ff00"/>
<rect x="631.91" y="417.17" width="46.06" height="40.89" fill="#960000" stroke="#000000"/>
<rect x="335.88" y="460.34" width="45.90" height="41.09" fill="#005cff" stroke="#00003b"/>
<rect x="384.62" y="460.34" width="46.11" height="41.09" fill="#0078ff" stroke="#00003b"/>
<rect x="435.87" y="460.34" width="43.92" height="41.09" fill="#006dff" stroke="#00003b"/>
<rect x="485.01" y="460.34" width="43.78" height="41.09" fill="#006dff" stroke="#00003b"/>
<rect x="534.01" y="460.34" width="43.68" height="41.09" fill="#33ff55"/>
<rect x="582.91" y="460.34" width="43.78" height="41.09" fill="#1aff61"/>
<rect x="631.91" y="460.34" width="46.06" height="41.09" fill="#55ff44"/>
<rect x="680.82" y="460.34" width="46.35" height="41.09" fill="#960000" stroke="#000000"/>
<rect x="335.88" y="506.37" width="45.90" height="40.57" fill="#0062ff" stroke="#00003b"/>
<rect x="384.62" y="506.37" width="46.11" height="40.57" fill="#0072ff" stroke="#00003b"/>
<rect x="435.87" y="506.37" width="43.92" height="40.57" fill="#0078ff" stroke="#00003b"/>
<rect x="485.01" y="506.37" width="43.78" height="40.57" fill="#0062ff" stroke="#00003b"/>
<rect x="534.01" y="506.37" width="43.68" height="40.57" fill="#33ff55"/>
<rect x="582.91" y="506.37" width="43.78" height="40.57" fill="#08ff6a"/>
<rect x="631.91" y="506.37" width="46.06" height="40.57" fill="#3bff51"/>
<rect x="680.82" y="506.37" width="46.35" height="40.57" fill="#2aff59"/>
<rect x="730.02" y="506.37" width="46.26" height="40.57" fill="#960000" stroke="#000000"/>
<rect x="335.88" y="552.26" width="45.90" height="38.17" fill="#006dff" stroke="#00003b"/>
<rect x="384.62" y="552.26" width="46.11" height="38.17" fill="#0072ff" stroke="#00003b"/>
<rect x="435.87" y="552.26" width="43.92" height="38.17" fill="#005cff" stroke="#00003b"/>
<rect x="485.01" y="552.26" width="43.78" height="38.17" fill="#0051ff" stroke="#00003b"/>
<rect x="534.01" y="552.26" width="43.68" height="38.17" fill="#00ffee"/>
<rect x="582.91" y="552.26" width="43.78" height="38.17" fill="#00ffee"/>
<rect x="631.91" y="552.26" width="46.06" height="38.17" fill="#00f9f1"/>
<rect x="680.82" y="552.26" width="46.35" height="38.17" fill="#00ffee"/>
<rect x="730.02" y="552.26" width="46.26" height="38.17" fill="#00fcf0"/>
<rect x="781.51" y="552.26" width="43.78" height="38.17" fill="#960000" stroke="#000000"/>
<rect x="335.88" y="595.57" width="45.90" height="40.92" fill="#006dff" stroke="#00003b"/>
<rect x="384.62" y="595.57" width="46.11" height="40.92" fill="#00a0ff" stroke="#00003b"/>
<rect x="435.87" y="595.57" width="43.92" height="40.92" fill="#006dff" stroke="#00003b"/>
<rect x="485.01" y="595.57" width="43.78" height="40.92" fill="#0082ff" stroke="#00003b"/>
<rect x="534.01" y="595.57" width="43.68" height="40.92" fill="#008cff" stroke="#00003b"/>
<rect x="582.91" y="595.57" width="43.78" height="40.92" fill="#0078ff" stroke="#00003b"/>
<rect x="631.91" y="595.57" width="46.06" height="40.92" fill="#0091ff" stroke="#00003b"/>
<rect x="680.82" y="595.57" width="46.35" height="40.92" fill="#009bff" stroke="#00003b"/>
<rect x="730.02" y="595.57" width="46.26" height="40.92" fill="#0087ff" stroke="#00003b"/>
<rect x="781.51" y="595.57" width="43.78" height="40.92" fill="#0082ff" stroke="#00003b"/>
<rect x="830.51" y="595.57" width="43.98" height="40.92" fill="#960000" stroke="#000000"/>
<rect x="335.88" y="641.52" width="45.90" height="38.12" fill="#0096ff" stroke="#00003b"/>
<rect x="384.62" y="641.52" width="46.11" height="38.12" fill="#0091ff" stroke="#00003b"/>
<rect x="435.87" y="641.52" width="43.92" height="38.12" fill="#0062ff" stroke="#00003b"/>
<rect x="485.01" y="641.52" width="43.78" height="38.12" fill="#006dff" stroke="#00003b"/>
<rect x="534.01" y="641.52" width="43.68" height="38.12" fill="#006dff" stroke="#00003b"/>
<rect x="582.91" y="641.52" width="43.78" height="38.12" fill="#0062ff" stroke="#00003b"/>
<rect x="631.91" y="641.52" width="46.06" height="38.12" fill="#0056ff" stroke="#00003b"/>
<rect x="680.82" y="641.52" width="46.35" height="38.12" fill="#0067ff" stroke="#00003b"/>
<rect x="730.02" y="641.52" width="46.26" height="38.12" fill="#0062ff" stroke="#00003b"/>
<rect x="781.51" y="641.52" width="43.78" height="38.12" fill="#005cff" stroke="#00003b"/>
<rect x="830.51" y="641.52" width="43.98" height="38.12" fill="#0096ff" stroke="#00003b"/>
<rect x="879.71" y="641.52" width="43.58" height="38.12" fill="#960000" stroke="#000000"/>
<rect x="335.88" y="684.77" width="45.90" height="41.02" fill="#009bff" stroke="#00003b"/>
<rect x="384.62" y="684.77" width="46.11" height="41.02" fill="#0082ff" stroke="#00003b"/>
<rect x="435.87" y="684.77" width="43.92" height="41.02" fill="#006dff" stroke="#00003b"/>
<rect x="485.01" y="684.77" width="43.78" height="41.02" fill="#0078ff" stroke="#00003b"/>
<rect x="534.01" y="684.77" width="43.68" height="41.02" fill="#0078ff" stroke="#00003b"/>
<rect x="582.91" y="684.77" width="43.78" height="41.02" fill="#005cff" stroke="#00003b"/>
<rect x="631.91" y="684.77" width="46.06" height="41.02" fill="#005cff" stroke="#00003b"/>
<rect x="680.82" y="684.77" width="46.35" height="41.02" fill="#006dff" stroke="#00003b"/>
<rect x="730.02" y="684.77" width="46.26" height="41.02" fill="#0078ff" stroke="#00003b"/>
<rect x="781.51" y="684.77" width="43.78" height="41.02" fill="#0067ff" stroke="#00003b"/>
<rect x="830.51" y="684.77" width="43.98" height="41.02" fill="#0096ff" stroke="#00003b"/>
<rect x="879.71" y="684.77" width="43.58" height="41.02" fill="#960000" stroke="#000000"/>
<rect x="928.51" y="684.77" width="43.78" height="41.02" fill="#960000" stroke="#000000"/>
<rect x="335.88" y="730.82" width="45.90" height="40.89" fill="#009bff" stroke="#00003b"/>
<rect x="384.62" y="730.82" width="46.11" height="40.89" fill="#0078ff" stroke="#00003b"/>
<rect x="435.87" y="730.82" width="43.92" height="40.89" fill="#0078ff" stroke="#00003b"/>
<rect x="485.01" y="730.82" width="43.78" height="40.89" fill="#00aaff" stroke="#00003b"/>
<rect x="534.01" y="730.82" width="43.68" height="40.89" fill="#007dff" stroke="#00003b"/>
<rect x="582.91" y="730.82" width="43.78" height="40.89" fill="#0067ff" stroke="#00003b"/>
<rect x="631.91" y="730.82" width="46.06" height="40.89" fill="#0056ff" stroke="#00003b"/>
<rect x="680.82" y="730.82" width="46.35" height="40.89" fill="#0072ff" stroke="#00003b"/>
<rect x="730.02" y="730.82" width="46.26" height="40.89" fill="#007dff" stroke="#00003b"/>
<rect x="781.51" y="730.82" width="43.78" height="40.89" fill="#006dff" stroke="#00003b"/>
<rect x="830.51" y="730.82" width="43.98" height="40.89" fill="#00a5ff" stroke="#00003b"/>
<rect x="879.71" y="730.82" width="43.58" height="40.89" fill="#ffdb00"/>
<rect x="928.51" y="730.82" width="43.78" height="40.89" fill="#ffdb00"/>
<rect x="977.51" y="730.82" width="46.46" height="40.89" fill="#960000" stroke="#000000"/>
<rect x="335.88" y="774.09" width="45.90" height="41.29" fill="#0091ff" stroke="#00003b"/>
<rect x="384.62" y="774.09" width="46.11" height="41.29" fill="#0082ff" stroke="#00003b"/>
<rect x="435.87" y="774.09" width="43.92" height="41.29" fill="#0067ff" stroke="#00003b"/>
<rect x="485.01" y="774.09" width="43.78" height="41.29" fill="#0072ff" stroke="#00003b"/>
<rect x="534.01" y="774.09" width="43.68" height="41.29" fill="#0067ff" stroke="#00003b"/>
<rect x="582.91" y="774.09" width="43.78" height="41.29" fill="#006dff" stroke="#00003b"/>
<rect x="631.91" y="774.09" width="46.06" height="41.29" fill="#0078ff" stroke="#00003b"/>
<rect x="680.82" y="774.09" width="46.35" height="41.29" fill="#005cff" stroke="#00003b"/>
<rect x="730.02" y="774.09" width="46.26" height="41.29" fill="#0067ff" stroke="#00003b"/>
<rect x="781.51" y="774.09" width="43.78" height="41.29" fill="#0067ff" stroke="#00003b"/>
<rect x="830.51" y="774.09" width="43.98" height="41.29" fill="#0087ff" stroke="#00003b"/>
<rect x="879.71" y="774.09" width="43.58" height="41.29" fill="#3bff51"/>
<rect x="928.51" y="774.09" width="43.78" height="41.29" fill="#00ff6e"/>
<rect x="977.51" y="774.09" width="46.46" height="41.29" fill="#88ff22"/>
<rect x="1026.83" y="774.09" width="46.26" height="41.29" fill="#960000" stroke="#000000"/>
<rect x="335.88" y="820.22" width="45.90" height="40.35" fill="#0096ff" stroke="#00003b"/>
<rect x="384.62" y="820.22" width="46.11" height="40.35" fill="#00aaff" stroke="#00003b"/>
<rect x="435.87" y="820.22" width="43.92" height="40.35" fill="#006dff" stroke="#00003b"/>
<rect x="485.01" y="820.22" width="43.78" height="40.35" fill="#0078ff" stroke="#00003b"/>
<rect x="534.01" y="820.22" width="43.68" height="40.35" fill="#006dff" stroke="#00003b"/>
<rect x="582.91" y="820.22" width="43.78" height="40.35" fill="#0067ff" stroke="#00003b"/>
<rect x="631.91" y="820.22" width="46.06" height="40.35" fill="#0078ff" stroke="#00003b"/>
<rect x="680.82" y="820.22" width="46.35" height="40.35" fill="#0078ff" stroke="#00003b"/>
<rect x="730.02" y="820.22" width="46.26" height="40.35" fill="#0078ff" stroke="#00003b"/>
<rect x="781.51" y="820.22" width="43.78" height="40.35" fill="#0096ff" stroke="#00003b"/>
<rect x="830.51" y="820.22" width="43.98" height="40.35" fill="#006dff" stroke="#00003b"/>
<rect x="879.71" y="820.22" width="43.58" height="40.35" fill="#008cff" stroke="#00003b"/>
<rect x="928.51" y="820.22" width="43.78" height="40.35" fill="#0091ff" stroke="#00003b"/>
<rect x="977.51" y="820.22" width="46.46" height="40.35" fill="#009bff" stroke="#00003b"/>
<rect x="1026.83" y="820.22" width="46.26" height="40.35" fill="#0078ff" stroke="#00003b"/>
<rect x="1078.31" y="820.22" width="43.78" height="40.35" fill="#960000" stroke="#000000"/>
<rect x="335.88" y="863.42" width="45.90" height="40.72" fill="#009bff" stroke="#00003b"/>
<rect x="384.62" y="863.42" width="46.11" height="40.72" fill="#0096ff" stroke="#00003b"/>
<rect x="435.87" y="863.42" width="43.92" height="40.72" fill="#0082ff" stroke="#00003b"/>
<rect x="485.01" y="863.42" width="43.78" height="40.72" fill="#008cff" stroke="#00003b"/>
<rect x="534.01" y="863.42" width="43.68" height="40.72" fill="#009bff" stroke="#00003b"/>
<rect x="582.91" y="863.42" width="43.78" height="40.72" fill="#0082ff" stroke="#00003b"/>
<rect x="631.91" y="863.42" width="46.06" height="40.72" fill="#0096ff" stroke="#00003b"/>
<rect x="680.82" y="863.42" width="46.35" height="40.72" fill="#0096ff" stroke="#00003b"/>
<rect x="730.02" y="863.42" width="46.26" height="40.72" fill="#009bff" stroke="#00003b"/>
<rect x="781.51" y="863.42" width="43.78" height="40.72" fill="#0087ff" stroke="#00003b"/>
<rect x="830.51" y="863.42" width="43.98" height="40.72" fill="#008cff" stroke="#00003b"/>
<rect x="879.71" y="863.42" width="43.58" height="40.72" fill="#00a5ff" stroke="#00003b"/>
<rect x="928.51" y="863.42" width="43.78" height="40.72" fill="#00a5ff" stroke="#00003b"/>
<rect x="977.51" y="863.42" width="46.46" height="40.72" fill="#0087ff" stroke="#00003b"/>
<rect x="1026.83" y="863.42" width="46.26" height="40.72" fill="#0082ff" stroke="#00003b"/>
<rect x="1078.31" y="863.42" width="43.78" height="40.72" fill="#00caff" stroke="#00063b"/>
<rect x="1127.31" y="863.42" width="43.67" height="40.72" fill="#960000" stroke="#000000"/>
<rect x="335.88" y="909.65" width="45.90" height="40.69" fill="#008cff" stroke="#00003b"/>
<rect x="384.62" y="909.65" width="46.11" height="40.69" fill="#0091ff" stroke="#00003b"/>
<rect x="435.87" y="909.65" width="43.92" height="40.69" fill="#0062ff" stroke="#00003b"/>
<rect x="485.01" y="909.65" width="43.78" height="40.69" fill="#0078ff" stroke="#00003b"/>
<rect x="534.01" y="909.65" width="43.68" height="40.69" fill="#0096ff" stroke="#00003b"/>
<rect x="582.91" y="909.65" width="43.78" height="40.69" fill="#0087ff" stroke="#00003b"/>
<rect x="631.91" y="909.65" width="46.06" height="40.69" fill="#008cff" stroke="#00003b"/>
<rect x="680.82" y="909.65" width="46.35" height="40.69" fill="#008cff" stroke="#00003b"/>
<rect x="730.02" y="909.65" width="46.26" height="40.69" fill="#0087ff" stroke="#00003b"/>
<rect x="781.51" y="909.65" width="43.78" height="40.69" fill="#0078ff" stroke="#00003b"/>
<rect x="830.51" y="909.65" width="43.98" height="40.69" fill="#00a5ff" stroke="#00003b"/>
<rect x="879.71" y="909.65" width="43.58" height="40.69" fill="#0096ff" stroke="#00003b"/>
<rect x="928.51" y="909.65" width="43.78" height="40.69" fill="#0091ff" stroke="#00003b"/>
<rect x="977.51" y="909.65" width="46.46" height="40.69" fill="#00a5ff" stroke="#00003b"/>
<rect x="1026.83" y="909.65" width="46.26" height="40.69" fill="#0087ff" stroke="#00003b"/>
<rect x="1078.31" y="909.65" width="43.78" height="40.69" fill="#0091ff" stroke="#00003b"/>
<rect x="1127.31" y="909.65" width="43.67" height="40.69" fill="#00baff" stroke="#00003b"/>
<rect x="1176.21" y="909.65" width="44.18" height="40.69" fill="#960000" stroke="#000000"/>
<rect x="335.88" y="955.86" width="45.90" height="37.48" fill="#0040ff" stroke="#00003b"/>
<rect x="384.62" y="955.86" width="46.11" height="37.48" fill="#0056ff" stroke="#00003b"/>
<rect x="435.87" y="955.86" width="43.92" height="37.48" fill="#004bff" stroke="#00003b"/>
<rect x="485.01" y="955.86" width="43.78" height="37.48" fill="#0067ff" stroke="#00003b"/>
<rect x="534.01" y="955.86" width="43.68" height="37.48" fill="#0051ff" stroke="#00003b"/>
<rect x="582.91" y="955.86" width="43.78" height="37.48" fill="#0062ff" stroke="#00003b"/>
<rect x="631.91" y="955.86" width="46.06" height="37.48" fill="#0056ff" stroke="#00003b"/>
<rect x="680.82" y="955.86" width="46.35" height="37.48" fill="#005cff" stroke="#00003b"/>
<rect x="730.02" y="955.86" width="46.26" height="37.48" fill="#0062ff" stroke="#00003b"/>
<rect x="781.51" y="955.86" width="43.78" height="37.48" fill="#0023ff" stroke="#00003b"/>
<rect x="830.51" y="955.86" width="43.98" height="37.48" fill="#0067ff" stroke="#00003b"/>
<rect x="879.71" y="955.86" width="43.58" height="37.48" fill="#004bff" stroke="#00003b"/>
<rect x="928.51" y="955.86" width="43.78" height="37.48" fill="#0051ff" stroke="#00003b"/>
<rect x="977.51" y="955.86" width="46.46" height="37.48" fill="#0062ff" stroke="#00003b"/>
<rect x="1026.83" y="955.86" width="46.26" height="37.48" fill="#005cff" stroke="#00003b"/>
<rect x="1078.31" y="955.86" width="43.78" height="37.48" fill="#005cff" stroke="#00003b"/>
<rect x="1127.31" y="955.86" width="43.67" height="37.48" fill="#0062ff" stroke="#00003b"/>
<rect x="1176.21" y="955.86" width="44.18" height="37.48" fill="#009bff" stroke="#00003b"/>
<rect x="1225.61" y="955.86" width="43.48" height="37.48" fill="#960000" stroke="#000000"/>
<rect x="335.88" y="998.47" width="45.90" height="41.08" fill="#005cff" stroke="#00003b"/>
<rect x="384.62" y="998.47" width="46.11" height="41.08" fill="#005cff" stroke="#00003b"/>
<rect x="435.87" y="998.47" width="43.92" height="41.08" fill="#003bff" stroke="#00003b"/>
<rect x="485.01" y="998.47" width="43.78" height="41.08" fill="#0056ff" stroke="#00003b"/>
<rect x="534.01" y="998.47" width="43.68" height="41.08" fill="#0056ff" stroke="#00003b"/>
<rect x="582.91" y="998.47" width="43.78" height="41.08" fill="#004bff" stroke="#00003b"/>
<rect x="631.91" y="998.47" width="46.06" height="41.08" fill="#0056ff" stroke="#00003b"/>
<rect x="680.82" y="998.47" width="46.35" height="41.08" fill="#0056ff" stroke="#00003b"/>
<rect x="730.02" y="998.47" width="46.26" height="41.08" fill="#0067ff" stroke="#00003b"/>
<rect x="781.51" y="998.47" width="43.78" height="41.08" fill="#0051ff" stroke="#00003b"/>
<rect x="830.51" y="998.47" width="43.98" height="41.08" fill="#0062ff" stroke="#00003b"/>
<rect x="879.71" y="998.47" width="43.58" height="41.08" fill="#0040ff" stroke="#00003b"/>
<rect x="928.51" y="998.47" width="43.78" height="41.08" fill="#0040ff" stroke="#00003b"/>
<rect x="977.51" y="998.47" width="46.46" height="41.08" fill="#0032ff" stroke="#00003b"/>
<rect x="1026.83" y="998.47" width="46.26" height="41.08" fill="#0040ff" stroke="#00003b"/>
<rect x="1078.31" y="998.47" width="43.78" height="41.08" fill="#005cff" stroke="#00003b"/>
<rect x="1127.31" y="998.47" width="43.67" height="41.08" fill="#0010ff" stroke="#00003b"/>
<rect x="1176.21" y="998.47" width="44.18" height="41.08" fill="#005cff" stroke="#00003b"/>
<rect x="1225.61" y="998.47" width="43.48" height="41.08" fill="#0010ff" stroke="#00003b"/>
<rect x="1274.31" y="998.47" width="43.58" height="41.08" fill="#960000" stroke="#000000"/>
<rect x="335.88" y="1045.06" width="45.90" height="37.49" fill="#003bff" stroke="#00003b"/>
<rect x="384.62" y="1045.06" width="46.11" height="37.49" fill="#0032ff" stroke="#00003b"/>
<rect x="435.87" y="1045.06" width="43.92" height="37.49" fill="#0036ff" stroke="#00003b"/>
<rect x="485.01" y="1045.06" width="43.78" height="37.49" fill="#003bff" stroke="#00003b"/>
<rect x="534.01" y="1045.06" width="43.68" height="37.49" fill="#004bff" stroke="#00003b"/>
<rect x="582.91" y="1045.06" width="43.78" height="37.49" fill="#003bff" stroke="#00003b"/>
<rect x="631.91" y="1045.06" width="46.06" height="37.49" fill="#002dff" stroke="#00003b"/>
<rect x="680.82" y="1045.06" width="46.35" height="37.49" fill="#0036ff" stroke="#00003b"/>
<rect x="730.02" y="1045.06" width="46.26" height="37.49" fill="#0040ff" stroke="#00003b"/>
<rect x="781.51" y="1045.06" width="43.78" height="37.49" fill="#0023ff" stroke="#00003b"/>
<rect x="830.51" y="1045.06" width="43.98" height="37.49" fill="#0040ff" stroke="#00003b"/>
<rect x="879.71" y="1045.06" width="43.58" height="37.49" fill="#0051ff" stroke="#00003b"/>
<rect x="928.51" y="1045.06" width="43.78" height="37.49" fill="#0051ff" stroke="#00003b"/>
<rect x="977.51" y="1045.06" width="46.46" height="37.49" fill="#0072ff" stroke="#00003b"/>
<rect x="1026.83" y="1045.06" width="46.26" height="37.49" fill="#0056ff" stroke="#00003b"/>
<rect x="1078.31" y="1045.06" width="43.78" height="37.49" fill="#005cff" stroke="#00003b"/>
<rect x="1127.31" y="1045.06" width="43.67" height="37.49" fill="#0040ff" stroke="#00003b"/>
<rect x="1176.21" y="1045.06" width="44.18" height="37.49" fill="#0067ff" stroke="#00003b"/>
<rect x="1225.61" y="1045.06" width="43.48" height="37.49" fill="#0032ff" stroke="#00003b"/>
<rect x="1274.31" y="1045.06" width="43.58" height="37.49" fill="#00e0ff" stroke="#001124"/>
<rect x="1323.11" y="1045.06" width="46.46" height="37.49" fill="#960000" stroke="#000000"/>
<rect x="335.88" y="1088.06" width="45.90" height="41.08" fill="#0028ff" stroke="#00003b"/>
<rect x="384.62" y="1088.06" width="46.11" height="41.08" fill="#0010ff" stroke="#00003b"/>
<rect x="435.87" y="1088.06" width="43.92" height="41.08" fill="#0010ff" stroke="#00003b"/>
<rect x="485.01" y="1088.06" width="43.78" height="41.08" fill="#0028ff" stroke="#00003b"/>
<rect x="534.01" y="1088.06" width="43.68" height="41.08" fill="#0028ff" stroke="#00003b"/>
<rect x="582.91" y="1088.06" width="43.78" height="41.08" fill="#0010ff" stroke="#00003b"/>
<rect x="631.91" y="1088.06" width="46.06" height="41.08" fill="#0032ff" stroke="#00003b"/>
<rect x="680.82" y="1088.06" width="46.35" height="41.08" fill="#0028ff" stroke="#00003b"/>
<rect x="730.02" y="1088.06" width="46.26" height="41.08" fill="#004bff" stroke="#00003b"/>
<rect x="781.51" y="1088.06" width="43.78" height="41.08" fill="#001eff" stroke="#00003b"/>
<rect x="830.51" y="1088.06" width="43.98" height="41.08" fill="#0010ff" stroke="#00003b"/>
<rect x="879.71" y="1088.06" width="43.58" height="41.08" fill="#0051ff" stroke="#00003b"/>
<rect x="928.51" y="1088.06" width="43.78" height="41.08" fill="#0040ff" stroke="#00003b"/>
<rect x="977.51" y="1088.06" width="46.46" height="41.08" fill="#0056ff" stroke="#00003b"/>
<rect x="1026.83" y="1088.06" width="46.26" height="41.08" fill="#0040ff" stroke="#00003b"/>
<rect x="1078.31" y="1088.06" width="43.78" height="41.08" fill="#001aff" stroke="#00003b"/>
<rect x="1127.31" y="1088.06" width="43.67" height="41.08" fill="#0010ff" stroke="#00003b"/>
<rect x="1176.21" y="1088.06" width="44.18" height="41.08" fill="#0040ff" stroke="#00003b"/>
<rect x="1225.61" y="1088.06" width="43.48" height="41.08" fill="#002dff" stroke="#00003b"/>
<rect x="1274.31" y="1088.06" width="43.58" height="41.08" fill="#00caff" stroke="#00063b"/>
<rect x="1323.11" y="1088.06" width="46.46" height="41.08" fill="#00baff" stroke="#00003b"/>
<rect x="1372.42" y="1088.06" width="46.26" height="41.08" fill="#960000" stroke="#000000"/>
<rect x="335.88" y="1134.27" width="45.90" height="40.36" fill="#0036ff" stroke="#00003b"/>
<rect x="384.62" y="1134.27" width="46.11" height="40.36" fill="#0051ff" stroke="#00003b"/>
<rect x="435.87" y="1134.27" width="43.92" height="40.36" fill="#0028ff" stroke="#00003b"/>
<rect x="485.01" y="1134.27" width="43.78" height="40.36" fill="#0040ff" stroke="#00003b"/>
<rect x="534.01" y="1134.27" width="43.68" height="40.36" fill="#005cff" stroke="#00003b"/>
<rect x="582.91" y="1134.27" width="43.78" height="40.36" fill="#0023ff" stroke="#00003b"/>
<rect x="631.91" y="1134.27" width="46.06" height="40.36" fill="#003bff" stroke="#00003b"/>
<rect x="680.82" y="1134.27" width="46.35" height="40.36" fill="#004bff" stroke="#00003b"/>
<rect x="730.02" y="1134.27" width="46.26" height="40.36" fill="#0056ff" stroke="#00003b"/>
<rect x="781.51" y="1134.27" width="43.78" height="40.36" fill="#004bff" stroke="#00003b"/>
<rect x="830.51" y="1134.27" width="43.98" height="40.36" fill="#0010ff" stroke="#00003b"/>
<rect x="879.71" y="1134.27" width="43.58" height="40.36" fill="#0056ff" stroke="#00003b"/>
<rect x="928.51" y="1134.27" width="43.78" height="40.36" fill="#0056ff" stroke="#00003b"/>
<rect x="977.51" y="1134.27" width="46.46" height="40.36" fill="#0072ff" stroke="#00003b"/>
<rect x="1026.83" y="1134.27" width="46.26" height="40.36" fill="#0040ff" stroke="#00003b"/>
<rect x="1078.31" y="1134.27" width="43.78" height="40.36" fill="#0040ff" stroke="#00003b"/>
<rect x="1127.31" y="1134.27" width="43.67" height="40.36" fill="#0028ff" stroke="#00003b"/>
<rect x="1176.21" y="1134.27" width="44.18" height="40.36" fill="#005cff" stroke="#00003b"/>
<rect x="1225.61" y="1134.27" width="43.48" height="40.36" fill="#002dff" stroke="#00003b"/>
<rect x="1274.31" y="1134.27" width="43.58" height="40.36" fill="#00d5ff" stroke="#000e31"/>
<rect x="1323.11" y="1134.27" width="46.46" height="40.36" fill="#00c5ff" stroke="#00013b"/>
<rect x="1372.42" y="1134.27" width="46.26" height="40.36" fill="#cfff00"/>
<rect x="1423.91" y="1134.27" width="43.88" height="40.36" fill="#960000" stroke="#000000"/>
<rect x="335.88" y="1177.38" width="45.90" height="40.81" fill="#004bff" stroke="#00003b"/>
<rect x="384.62" y="1177.38" width="46.11" height="40.81" fill="#0051ff" stroke="#00003b"/>
<rect x="435.87" y="1177.38" width="43.92" height="40.81" fill="#0036ff" stroke="#00003b"/>
<rect x="485.01" y="1177.38" width="43.78" height="40.81" fill="#0040ff" stroke="#00003b"/>
<rect x="534.01" y="1177.38" width="43.68" height="40.81" fill="#001aff" stroke="#00003b"/>
<rect x="582.91" y="1177.38" width="43.78" height="40.81" fill="#0010ff" stroke="#00003b"/>
<rect x="631.91" y="1177.38" width="46.06" height="40.81" fill="#001aff" stroke="#00003b"/>
<rect x="680.82" y="1177.38" width="46.35" height="40.81" fill="#0028ff" stroke="#00003b"/>
<rect x="730.02" y="1177.38" width="46.26" height="40.81" fill="#0023ff" stroke="#00003b"/>
<rect x="781.51" y="1177.38" width="43.78" height="40.81" fill="#0040ff" stroke="#00003b"/>
<rect x="830.51" y="1177.38" width="43.98" height="40.81" fill="#0028ff" stroke="#00003b"/>
<rect x="879.71" y="1177.38" width="43.58" height="40.81" fill="#002dff" stroke="#00003b"/>
<rect x="928.51" y="1177.38" width="43.78" height="40.81" fill="#0023ff" stroke="#00003b"/>
<rect x="977.51" y="1177.38" width="46.46" height="40.81" fill="#0056ff" stroke="#00003b"/>
<rect x="1026.83" y="1177.38" width="46.26" height="40.81" fill="#0056ff" stroke="#00003b"/>
<rect x="1078.31" y="1177.38" width="43.78" height="40.81" fill="#0036ff" stroke="#00003b"/>
<rect x="1127.31" y="1177.38" width="43.67" height="40.81" fill="#0010ff" stroke="#00003b"/>
<rect x="1176.21" y="1177.38" width="44.18" height="40.81" fill="#0040ff" stroke="#00003b"/>
<rect x="1225.61" y="1177.38" width="43.48" height="40.81" fill="#0010ff" stroke="#00003b"/>
<rect x="1274.31" y="1177.38" width="43.58" height="40.81" fill="#0051ff" stroke="#00003b"/>
<rect x="1323.11" y="1177.38" width="46.46" height="40.81" fill="#0067ff" stroke="#00003b"/>
<rect x="1372.42" y="1177.38" width="46.26" height="40.81" fill="#0051ff" stroke="#00003b"/>
<rect x="1423.91" y="1177.38" width="43.88" height="40.81" fill="#006dff" stroke="#00003b"/>
<rect x="1473.01" y="1177.38" width="43.78" height="40.81" fill="#960000" stroke="#000000"/>
<rect x="335.88" y="1223.22" width="45.90" height="40.61" fill="#003bff" stroke="#00003b"/>
<rect x="384.62" y="1223.22" width="46.11" height="40.61" fill="#0040ff" stroke="#00003b"/>
<rect x="435.87" y="1223.22" width="43.92" height="40.61" fill="#000bf3" stroke="#000031"/>
<rect x="485.01" y="1223.22" width="43.78" height="40.61" fill="#0028ff" stroke="#00003b"/>
<rect x="534.01" y="1223.22" width="43.68" height="40.61" fill="#003bff" stroke="#00003b"/>
<rect x="582.91" y="1223.22" width="43.78" height="40.61" fill="#000efb" stroke="#000037"/>
<rect x="631.91" y="1223.22" width="46.06" height="40.61" fill="#0036ff" stroke="#00003b"/>
<rect x="680.82" y="1223.22" width="46.35" height="40.61" fill="#0040ff" stroke="#00003b"/>
<rect x="730.02" y="1223.22" width="46.26" height="40.61" fill="#004bff" stroke="#00003b"/>
<rect x="781.51" y="1223.22" width="43.78" height="40.61" fill="#0010ff" stroke="#00003b"/>
<rect x="830.51" y="1223.22" width="43.98" height="40.61" fill="#0040ff" stroke="#00003b"/>
<rect x="879.71" y="1223.22" width="43.58" height="40.61" fill="#0036ff" stroke="#00003b"/>
<rect x="928.51" y="1223.22" width="43.78" height="40.61" fill="#0036ff" stroke="#00003b"/>
<rect x="977.51" y="1223.22" width="46.46" height="40.61" fill="#004bff" stroke="#00003b"/>
<rect x="1026.83" y="1223.22" width="46.26" height="40.61" fill="#0051ff" stroke="#00003b"/>
<rect x="1078.31" y="1223.22" width="43.78" height="40.61" fill="#0051ff" stroke="#00003b"/>
<rect x="1127.31" y="1223.22" width="43.67" height="40.61" fill="#0032ff" stroke="#00003b"/>
<rect x="1176.21" y="1223.22" width="44.18" height="40.61" fill="#0040ff" stroke="#00003b"/>
<rect x="1225.61" y="1223.22" width="43.48" height="40.61" fill="#002dff" stroke="#00003b"/>
<rect x="1274.31" y="1223.22" width="43.58" height="40.61" fill="#0032ff" stroke="#00003b"/>
<rect x="1323.11" y="1223.22" width="46.46" height="40.61" fill="#0010ff" stroke="#00003b"/>
<rect x="1372.42" y="1223.22" width="46.26" height="40.61" fill="#000df7" stroke="#000033"/>
<rect x="1423.91" y="1223.22" width="43.88" height="40.61" fill="#000df7" stroke="#000033"/>
<rect x="1473.01" y="1223.22" width="43.78" height="40.61" fill="#000df7" stroke="#000033"/>
<rect x="1522.01" y="1223.22" width="44.08" height="40.61" fill="#960000" stroke="#000000"/>
<rect x="335.88" y="1266.58" width="45.90" height="40.90" fill="#0023ff" stroke="#00003b"/>
<rect x="384.62" y="1266.58" width="46.11" height="40.90" fill="#0040ff" stroke="#00003b"/>
<rect x="435.87" y="1266.58" width="43.92" height="40.90" fill="#0010ff" stroke="#00003b"/>
<rect x="485.01" y="1266.58" width="43.78" height="40.90" fill="#0010ff" stroke="#00003b"/>
<rect x="534.01" y="1266.58" width="43.68" height="40.90" fill="#0040ff" stroke="#00003b"/>
<rect x="582.91" y="1266.58" width="43.78" height="40.90" fill="#000df7" stroke="#000033"/>
<rect x="631.91" y="1266.58" width="46.06" height="40.90" fill="#0010ff" stroke="#00003b"/>
<rect x="680.82" y="1266.58" width="46.35" height="40.90" fill="#001aff" stroke="#00003b"/>
<rect x="730.02" y="1266.58" width="46.26" height="40.90" fill="#0028ff" stroke="#00003b"/>
<rect x="781.51" y="1266.58" width="43.78" height="40.90" fill="#001eff" stroke="#00003b"/>
<rect x="830.51" y="1266.58" width="43.98" height="40.90" fill="#0040ff" stroke="#00003b"/>
<rect x="879.71" y="1266.58" width="43.58" height="40.90" fill="#004bff" stroke="#00003b"/>
<rect x="928.51" y="1266.58" width="43.78" height="40.90" fill="#004bff" stroke="#00003b"/>
<rect x="977.51" y="1266.58" width="46.46" height="40.90" fill="#0062ff" stroke="#00003b"/>
<rect x="1026.83" y="1266.58" width="46.26" height="40.90" fill="#0051ff" stroke="#00003b"/>
<rect x="1078.31" y="1266.58" width="43.78" height="40.90" fill="#0040ff" stroke="#00003b"/>
<rect x="1127.31" y="1266.58" width="43.67" height="40.90" fill="#0036ff" stroke="#00003b"/>
<rect x="1176.21" y="1266.58" width="44.18" height="40.90" fill="#0040ff" stroke="#00003b"/>
<rect x="1225.61" y="1266.58" width="43.48" height="40.90" fill="#0010ff" stroke="#00003b"/>
<rect x="1274.31" y="1266.58" width="43.58" height="40.90" fill="#002dff" stroke="#00003b"/>
<rect x="1323.11" y="1266.58" width="46.46" height="40.90" fill="#000df7" stroke="#000033"/>
<rect x="1372.42" y="1266.58" width="46.26" height="40.90" fill="#0003df" stroke="#00002d"/>
<rect x="1423.91" y="1266.58" width="43.88" height="40.90" fill="#0006e7" stroke="#00002e"/>
<rect x="1473.01" y="1266.58" width="43.78" height="40.90" fill="#000df7" stroke="#000033"/>
<rect x="1522.01" y="1266.58" width="44.08" height="40.90" fill="#3bff51"/>
<rect x="1571.31" y="1266.58" width="43.38" height="40.90" fill="#960000" stroke="#000000"/>
<rect x="335.88" y="1312.52" width="45.90" height="40.90" fill="#0000ce" stroke="#000029"/>
<rect x="384.62" y="1312.52" width="46.11" height="40.90" fill="#0000d7" stroke="#00002b"/>
<rect x="435.87" y="1312.52" width="43.92" height="40.90" fill="#0000ce" stroke="#000029"/>
<rect x="485.01" y="1312.52" width="43.78" height="40.90" fill="#0000d7" stroke="#00002b"/>
<rect x="534.01" y="1312.52" width="43.68" height="40.90" fill="#0005e3" stroke="#00002d"/>
<rect x="582.91" y="1312.52" width="43.78" height="40.90" fill="#0002db" stroke="#00002c"/>
<rect x="631.91" y="1312.52" width="46.06" height="40.90" fill="#0000d7" stroke="#00002b"/>
<rect x="680.82" y="1312.52" width="46.35" height="40.90" fill="#0003df" stroke="#00002d"/>
<rect x="730.02" y="1312.52" width="46.26" height="40.90" fill="#0008eb" stroke="#00002f"/>
<rect x="781.51" y="1312.52" width="43.78" height="40.90" fill="#0000d7" stroke="#00002b"/>
<rect x="830.51" y="1312.52" width="43.98" height="40.90" fill="#0003df" stroke="#00002d"/>
<rect x="879.71" y="1312.52" width="43.58" height="40.90" fill="#0008eb" stroke="#00002f"/>
<rect x="928.51" y="1312.52" width="43.78" height="40.90" fill="#0008eb" stroke="#00002f"/>
<rect x="977.51" y="1312.52" width="46.46" height="40.90" fill="#0006e7" stroke="#00002e"/>
<rect x="1026.83" y="1312.52" width="46.26" height="40.90" fill="#0008eb" stroke="#00002f"/>
<rect x="1078.31" y="1312.52" width="43.78" height="40.90" fill="#0003df" stroke="#00002d"/>
<rect x="1127.31" y="1312.52" width="43.67" height="40.90" fill="#0003df" stroke="#00002d"/>
<rect x="1176.21" y="1312.52" width="44.18" height="40.90" fill="#0005e3" stroke="#00002d"/>
<rect x="1225.61" y="1312.52" width="43.48" height="40.90" fill="#0005e3" stroke="#00002d"/>
<rect x="1274.31" y="1312.52" width="43.58" height="40.90" fill="#0003df" stroke="#00002d"/>
<rect x="1323.11" y="1312.52" width="46.46" height="40.90" fill="#0005e3" stroke="#00002d"/>
<rect x="1372.42" y="1312.52" width="46.26" height="40.90" fill="#0000ce" stroke="#000029"/>
<rect x="1423.91" y="1312.52" width="43.88" height="40.90" fill="#0000c4" stroke="#000027"/>
<rect x="1473.01" y="1312.52" width="43.78" height="40.90" fill="#0003df" stroke="#00002d"/>
<rect x="1522.01" y="1312.52" width="44.08" height="40.90" fill="#0010ff" stroke="#00003b"/>
<rect x="1571.31" y="1312.52" width="43.38" height="40.90" fill="#0028ff" stroke="#00003b"/>
<rect x="1619.91" y="1312.52" width="46.36" height="40.90" fill="#960000" stroke="#000000"/>
<rect x="335.88" y="1355.98" width="45.90" height="41.28" fill="#0000c4" stroke="#000027"/>
<rect x="384.62" y="1355.98" width="46.11" height="41.28" fill="#0000d7" stroke="#00002b"/>
<rect x="435.87" y="1355.98" width="43.92" height="41.28" fill="#0000ce" stroke="#000029"/>
<rect x="485.01" y="1355.98" width="43.78" height="41.28" fill="#0003df" stroke="#00002d"/>
<rect x="534.01" y="1355.98" width="43.68" height="41.28" fill="#0003df" stroke="#00002d"/>
<rect x="582.91" y="1355.98" width="43.78" height="41.28" fill="#0000c4" stroke="#000027"/>
<rect x="631.91" y="1355.98" width="46.06" height="41.28" fill="#0000d7" stroke="#00002b"/>
<rect x="680.82" y="1355.98" width="46.35" height="41.28" fill="#0003df" stroke="#00002d"/>
<rect x="730.02" y="1355.98" width="46.26" height="41.28" fill="#0000d7" stroke="#00002b"/>
<rect x="781.51" y="1355.98" width="43.78" height="41.28" fill="#0000ce" stroke="#000029"/>
<rect x="830.51" y="1355.98" width="43.98" height="41.28" fill="#0005e3" stroke="#00002d"/>
<rect x="879.71" y="1355.98" width="43.58" height="41.28" fill="#0000d7" stroke="#00002b"/>
<rect x="928.51" y="1355.98" width="43.78" height="41.28" fill="#0000d7" stroke="#00002b"/>
<rect x="977.51" y="1355.98" width="46.46" height="41.28" fill="#0005e3" stroke="#00002d"/>
<rect x="1026.83" y="1355.98" width="46.26" height="41.28" fill="#0003df" stroke="#00002d"/>
<rect x="1078.31" y="1355.98" width="43.78" height="41.28" fill="#0000d7" stroke="#00002b"/>
<rect x="1127.31" y="1355.98" width="43.67" height="41.28" fill="#0003df" stroke="#00002d"/>
<rect x="1176.21" y="1355.98" width="44.18" height="41.28" fill="#0008eb" stroke="#00002f"/>
<rect x="1225.61" y="1355.98" width="43.48" height="41.28" fill="#0003df" stroke="#00002d"/>
<rect x="1274.31" y="1355.98" width="43.58" height="41.28" fill="#0005e3" stroke="#00002d"/>
<rect x="1323.11" y="1355.98" width="46.46" height="41.28" fill="#000aef" stroke="#000030"/>
<rect x="1372.42" y="1355.98" width="46.26" height="41.28" fill="#0003df" stroke="#00002d"/>
<rect x="1423.91" y="1355.98" width="43.88" height="41.28" fill="#0000c0" stroke="#000026"/>
<rect x="1473.01" y="1355.98" width="43.78" height="41.28" fill="#0000d7" stroke="#00002b"/>
<rect x="1522.01" y="1355.98" width="44.08" height="41.28" fill="#0010ff" stroke="#00003b"/>
<rect x="1571.31" y="1355.98" width="43.38" height="41.28" fill="#0010ff" stroke="#00003b"/>
<rect x="1619.91" y="1355.98" width="46.36" height="41.28" fill="#00baff" stroke="#00003b"/>
<rect x="1669.12" y="1355.98" width="45.85" height="41.28" fill="#960000" stroke="#000000"/>
<rect x="335.88" y="1401.73" width="45.90" height="40.86" fill="#0000c4" stroke="#000027"/>
<rect x="384.62" y="1401.73" width="46.11" height="40.86" fill="#0000d7" stroke="#00002b"/>
<rect x="435.87" y="1401.73" width="43.92" height="40.86" fill="#0002db" stroke="#00002c"/>
<rect x="485.01" y="1401.73" width="43.78" height="40.86" fill="#0000d7" stroke="#00002b"/>
<rect x="534.01" y="1401.73" width="43.68" height="40.86" fill="#0003df" stroke="#00002d"/>
<rect x="582.91" y="1401.73" width="43.78" height="40.86" fill="#0000d2" stroke="#00002a"/>
<rect x="631.91" y="1401.73" width="46.06" height="40.86" fill="#0003df" stroke="#00002d"/>
<rect x="680.82" y="1401.73" width="46.35" height="40.86" fill="#0008eb" stroke="#00002f"/>
<rect x="730.02" y="1401.73" width="46.26" height="40.86" fill="#0000d7" stroke="#00002b"/>
<rect x="781.51" y="1401.73" width="43.78" height="40.86" fill="#0002db" stroke="#00002c"/>
<rect x="830.51" y="1401.73" width="43.98" height="40.86" fill="#000aef" stroke="#000030"/>
<rect x="879.71" y="1401.73" width="43.58" height="40.86" fill="#0003df" stroke="#00002d"/>
<rect x="928.51" y="1401.73" width="43.78" height="40.86" fill="#0006e7" stroke="#00002e"/>
<rect x="977.51" y="1401.73" width="46.46" height="40.86" fill="#000aef" stroke="#000030"/>
<rect x="1026.83" y="1401.73" width="46.26" height="40.86" fill="#0008eb" stroke="#00002f"/>
<rect x="1078.31" y="1401.73" width="43.78" height="40.86" fill="#0003df" stroke="#00002d"/>
<rect x="1127.31" y="1401.73" width="43.67" height="40.86" fill="#000aef" stroke="#000030"/>
<rect x="1176.21" y="1401.73" width="44.18" height="40.86" fill="#0003df" stroke="#00002d"/>
<rect x="1225.61" y="1401.73" width="43.48" height="40.86" fill="#0000d7" stroke="#00002b"/>
<rect x="1274.31" y="1401.73" width="43.58" height="40.86" fill="#0005e3" stroke="#00002d"/>
<rect x="1323.11" y="1401.73" width="46.46" height="40.86" fill="#000aef" stroke="#000030"/>
<rect x="1372.42" y="1401.73" width="46.26" height="40.86" fill="#0003df" stroke="#00002d"/>
<rect x="1423.91" y="1401.73" width="43.88" height="40.86" fill="#0000c9" stroke="#000028"/>
<rect x="1473.01" y="1401.73" width="43.78" height="40.86" fill="#0000d7" stroke="#00002b"/>
<rect x="1522.01" y="1401.73" width="44.08" height="40.86" fill="#0010ff" stroke="#00003b"/>
<rect x="1571.31" y="1401.73" width="43.38" height="40.86" fill="#000efb" stroke="#000037"/>
<rect x="1619.91" y="1401.73" width="46.36" height="40.86" fill="#00e6fc" stroke="#00121e"/>
<rect x="1669.12" y="1401.73" width="45.85" height="40.86" fill="#00ff9e"/>
<rect x="1717.83" y="1401.73" width="46.36" height="40.86" fill="#960000" stroke="#000000"/>
<rect x="335.88" y="1447.81" width="45.90" height="38.70" fill="#000aef" stroke="#000030"/>
<rect x="384.62" y="1447.81" width="46.11" height="38.70" fill="#000efb" stroke="#000037"/>
<rect x="435.87" y="1447.81" width="43.92" height="38.70" fill="#0000d7" stroke="#00002b"/>
<rect x="485.01" y="1447.81" width="43.78" height="38.70" fill="#0000ce" stroke="#000029"/>
<rect x="534.01" y="1447.81" width="43.68" height="38.70" fill="#0000d7" stroke="#00002b"/>
<rect x="582.91" y="1447.81" width="43.78" height="38.70" fill="#0000ce" stroke="#000029"/>
<rect x="631.91" y="1447.81" width="46.06" height="38.70" fill="#000aef" stroke="#000030"/>
<rect x="680.82" y="1447.81" width="46.35" height="38.70" fill="#0005e3" stroke="#00002d"/>
<rect x="730.02" y="1447.81" width="46.26" height="38.70" fill="#0003df" stroke="#00002d"/>
<rect x="781.51" y="1447.81" width="43.78" height="38.70" fill="#0005e3" stroke="#00002d"/>
<rect x="830.51" y="1447.81" width="43.98" height="38.70" fill="#0003df" stroke="#00002d"/>
<rect x="879.71" y="1447.81" width="43.58" height="38.70" fill="#000bf3" stroke="#000031"/>
<rect x="928.51" y="1447.81" width="43.78" height="38.70" fill="#0008eb" stroke="#00002f"/>
<rect x="977.51" y="1447.81" width="46.46" height="38.70" fill="#000df7" stroke="#000033"/>
<rect x="1026.83" y="1447.81" width="46.26" height="38.70" fill="#0006e7" stroke="#00002e"/>
<rect x="1078.31" y="1447.81" width="43.78" height="38.70" fill="#0005e3" stroke="#00002d"/>
<rect x="1127.31" y="1447.81" width="43.67" height="38.70" fill="#0008eb" stroke="#00002f"/>
<rect x="1176.21" y="1447.81" width="44.18" height="38.70" fill="#0008eb" stroke="#00002f"/>
<rect x="1225.61" y="1447.81" width="43.48" height="38.70" fill="#0005e3" stroke="#00002d"/>
<rect x="1274.31" y="1447.81" width="43.58" height="38.70" fill="#0000d7" stroke="#00002b"/>
<rect x="1323.11" y="1447.81" width="46.46" height="38.70" fill="#0005e3" stroke="#00002d"/>
<rect x="1372.42" y="1447.81" width="46.26" height="38.70" fill="#0000ce" stroke="#000029"/>
<rect x="1423.91" y="1447.81" width="43.88" height="38.70" fill="#0000c9" stroke="#000028"/>
<rect x="1473.01" y="1447.81" width="43.78" height="38.70" fill="#0000d7" stroke="#00002b"/>
<rect x="1522.01" y="1447.81" width="44.08" height="38.70" fill="#0006e7" stroke="#00002e"/>
<rect x="1571.31" y="1447.81" width="43.38" height="38.70" fill="#000bf3" stroke="#000031"/>
<rect x="1619.91" y="1447.81" width="46.36" height="38.70" fill="#0000a8" stroke="#000022"/>
<rect x="1669.12" y="1447.81" width="45.85" height="38.70" fill="#00009f" stroke="#000020"/>
<rect x="1717.83" y="1447.81" width="46.36" height="38.70" fill="#0000a8" stroke="#000022"/>
<rect x="1769.41" y="1447.81" width="43.98" height="38.70" fill="#960000" stroke="#000000"/>
<rect x="335.88" y="1490.88" width="45.90" height="40.83" fill="#000bf3" stroke="#000031"/>
<rect x="384.62" y="1490.88" width="46.11" height="40.83" fill="#0010ff" stroke="#00003b"/>
<rect x="435.87" y="1490.88" width="43.92" height="40.83" fill="#0005e3" stroke="#00002d"/>
<rect x="485.01" y="1490.88" width="43.78" height="40.83" fill="#000bf3" stroke="#000031"/>
<rect x="534.01" y="1490.88" width="43.68" height="40.83" fill="#0003df" stroke="#00002d"/>
<rect x="582.91" y="1490.88" width="43.78" height="40.83" fill="#0000ce" stroke="#000029"/>
<rect x="631.91" y="1490.88" width="46.06" height="40.83" fill="#0000d7" stroke="#00002b"/>
<rect x="680.82" y="1490.88" width="46.35" height="40.83" fill="#0000d7" stroke="#00002b"/>
<rect x="730.02" y="1490.88" width="46.26" height="40.83" fill="#0000c9" stroke="#000028"/>
<rect x="781.51" y="1490.88" width="43.78" height="40.83" fill="#0005e3" stroke="#00002d"/>
<rect x="830.51" y="1490.88" width="43.98" height="40.83" fill="#000bf3" stroke="#000031"/>
<rect x="879.71" y="1490.88" width="43.58" height="40.83" fill="#000df7" stroke="#000033"/>
<rect x="928.51" y="1490.88" width="43.78" height="40.83" fill="#000aef" stroke="#000030"/>
<rect x="977.51" y="1490.88" width="46.46" height="40.83" fill="#000bf3" stroke="#000031"/>
<rect x="1026.83" y="1490.88" width="46.26" height="40.83" fill="#000aef" stroke="#000030"/>
<rect x="1078.31" y="1490.88" width="43.78" height="40.83" fill="#0008eb" stroke="#00002f"/>
<rect x="1127.31" y="1490.88" width="43.67" height="40.83" fill="#0003df" stroke="#00002d"/>
<rect x="1176.21" y="1490.88" width="44.18" height="40.83" fill="#0000d7" stroke="#00002b"/>
<rect x="1225.61" y="1490.88" width="43.48" height="40.83" fill="#0000c0" stroke="#000026"/>
<rect x="1274.31" y="1490.88" width="43.58" height="40.83" fill="#0000ce" stroke="#000029"/>
<rect x="1323.11" y="1490.88" width="46.46" height="40.83" fill="#0000c9" stroke="#000028"/>
<rect x="1372.42" y="1490.88" width="46.26" height="40.83" fill="#0000b6" stroke="#000024"/>
<rect x="1423.91" y="1490.88" width="43.88" height="40.83" fill="#0000d7" stroke="#00002b"/>
<rect x="1473.01" y="1490.88" width="43.78" height="40.83" fill="#0000c0" stroke="#000026"/>
<rect x="1522.01" y="1490.88" width="44.08" height="40.83" fill="#0003df" stroke="#00002d"/>
<rect x="1571.31" y="1490.88" width="43.38" height="40.83" fill="#0006e7" stroke="#00002e"/>
<rect x="1619.91" y="1490.88" width="46.36" height="40.83" fill="#0000a4" stroke="#000021"/>
<rect x="1669.12" y="1490.88" width="45.85" height="40.83" fill="#0000a4" stroke="#000021"/>
<rect x="1717.83" y="1490.88" width="46.36" height="40.83" fill="#0000a8" stroke="#000022"/>
<rect x="1769.41" y="1490.88" width="43.98" height="40.83" fill="#00a5ff" stroke="#00003b"/>
<rect x="1818.61" y="1490.88" width="43.46" height="40.83" fill="#960000" stroke="#000000"/>
<rect x="383.00" y="1088.06" width="1.62" height="41.08" fill="#000250"/>
<rect x="830.51" y="1174.62" width="43.98" height="1.58" fill="#000250"/>
<rect x="582.91" y="1175.80" width="43.78" height="1.58" fill="#000250"/>
<rect x="1127.31" y="1175.80" width="43.67" height="1.58" fill="#000250"/>
<rect x="1225.61" y="1175.80" width="43.48" height="1.58" fill="#000250"/>
<rect x="435.87" y="1263.82" width="43.92" height="1.58" fill="#000254"/>
<rect x="582.91" y="1263.82" width="43.78" height="1.58" fill="#000251"/>
<rect x="781.51" y="1263.82" width="43.78" height="1.58" fill="#000250"/>
<rect x="1369.58" y="1223.22" width="1.62" height="40.61" fill="#000250"/>
<rect x="1323.11" y="1263.82" width="46.46" height="1.58" fill="#000250"/>
<rect x="1370.80" y="1223.22" width="1.62" height="40.61" fill="#000251"/>
<rect x="1372.42" y="1263.82" width="46.26" height="1.58" fill="#000251"/>
<rect x="1423.91" y="1263.82" width="43.88" height="1.58" fill="#000251"/>
<rect x="1473.01" y="1263.82" width="43.78" height="1.58" fill="#000251"/>
<rect x="435.87" y="1265.00" width="43.92" height="1.58" fill="#000250"/>
<rect x="485.01" y="1265.00" width="43.78" height="1.58" fill="#000250"/>
<rect x="582.91" y="1265.00" width="43.78" height="1.58" fill="#000251"/>
<rect x="677.98" y="1266.58" width="1.62" height="40.90" fill="#000250"/>
<rect x="631.91" y="1265.00" width="46.06" height="1.58" fill="#000250"/>
<rect x="1225.61" y="1265.00" width="43.48" height="1.58" fill="#000250"/>
<rect x="1369.58" y="1266.58" width="1.62" height="40.90" fill="#000251"/>
<rect x="1323.11" y="1265.00" width="46.46" height="1.58" fill="#000251"/>
<rect x="1370.80" y="1266.58" width="1.62" height="40.90" fill="#000161"/>
<rect x="1372.42" y="1265.00" width="46.26" height="1.58" fill="#000161"/>
<rect x="1423.91" y="1265.00" width="43.88" height="1.58" fill="#00015c"/>
<rect x="1473.01" y="1265.00" width="43.78" height="1.58" fill="#000251"/>
<rect x="381.77" y="1312.52" width="1.62" height="40.90" fill="#00005f"/>
<rect x="335.88" y="1353.42" width="45.90" height="1.48" fill="#00005f"/>
<rect x="383.00" y="1312.52" width="1.62" height="40.90" fill="#000064"/>
<rect x="384.62" y="1353.42" width="46.11" height="1.48" fill="#000064"/>
<rect x="435.87" y="1353.42" width="43.92" height="1.48" fill="#00005f"/>
<rect x="485.01" y="1353.42" width="43.78" height="1.48" fill="#000064"/>
<rect x="534.01" y="1353.42" width="43.68" height="1.48" fill="#00015e"/>
<rect x="582.91" y="1353.42" width="43.78" height="1.48" fill="#000162"/>
<rect x="677.98" y="1312.52" width="1.62" height="40.90" fill="#000064"/>
<rect x="631.91" y="1353.42" width="46.06" height="1.48" fill="#000064"/>
<rect x="679.20" y="1312.52" width="1.62" height="40.90" fill="#000161"/>
<rect x="727.18" y="1312.52" width="1.62" height="40.90" fill="#000161"/>
<rect x="680.82" y="1353.42" width="46.35" height="1.48" fill="#000161"/>
<rect x="728.40" y="1312.52" width="1.62" height="40.90" fill="#000259"/>
<rect x="730.02" y="1353.42" width="46.26" height="1.48" fill="#000259"/>
<rect x="781.51" y="1353.42" width="43.78" height="1.48" fill="#000064"/>
<rect x="830.51" y="1353.42" width="43.98" height="1.48" fill="#000161"/>
<rect x="879.71" y="1353.42" width="43.58" height="1.48" fill="#000259"/>
<rect x="928.51" y="1353.42" width="43.78" height="1.48" fill="#000259"/>
<rect x="1023.98" y="1312.52" width="1.62" height="40.90" fill="#00015c"/>
<rect x="977.51" y="1353.42" width="46.46" height="1.48" fill="#00015c"/>
<rect x="1025.20" y="1312.52" width="1.62" height="40.90" fill="#000259"/>
<rect x="1026.83" y="1353.42" width="46.26" height="1.48" fill="#000259"/>
<rect x="1078.31" y="1353.42" width="43.78" height="1.48" fill="#000161"/>
<rect x="1127.31" y="1353.42" width="43.67" height="1.48" fill="#000161"/>
<rect x="1176.21" y="1353.42" width="44.18" height="1.48" fill="#00015e"/>
<rect x="1225.61" y="1353.42" width="43.48" height="1.48" fill="#00015e"/>
<rect x="1274.31" y="1353.42" width="43.58" height="1.48" fill="#000161"/>
<rect x="1369.58" y="1312.52" width="1.62" height="40.90" fill="#00015e"/>
<rect x="1323.11" y="1353.42" width="46.46" height="1.48" fill="#00015e"/>
<rect x="1370.80" y="1312.52" width="1.62" height="40.90" fill="#00005f"/>
<rect x="1372.42" y="1353.42" width="46.26" height="1.48" fill="#00005f"/>
<rect x="1423.91" y="1353.42" width="43.88" height="1.48" fill="#00005b"/>
<rect x="1473.01" y="1353.42" width="43.78" height="1.48" fill="#000161"/>
<rect x="1522.01" y="1353.42" width="44.08" height="1.48" fill="#000250"/>
<rect x="381.77" y="1355.98" width="1.62" height="41.28" fill="#00005b"/>
<rect x="335.88" y="1354.50" width="45.90" height="1.48" fill="#00005b"/>
<rect x="383.00" y="1355.98" width="1.62" height="41.28" fill="#000064"/>
<rect x="384.62" y="1354.50" width="46.11" height="1.48" fill="#000064"/>
<rect x="435.87" y="1354.50" width="43.92" height="1.48" fill="#00005f"/>
<rect x="485.01" y="1354.50" width="43.78" height="1.48" fill="#000161"/>
<rect x="534.01" y="1354.50" width="43.68" height="1.48" fill="#000161"/>
<rect x="582.91" y="1354.50" width="43.78" height="1.48" fill="#00005b"/>
<rect x="677.98" y="1355.98" width="1.62" height="41.28" fill="#000064"/>
<rect x="631.91" y="1354.50" width="46.06" height="1.48" fill="#000064"/>
<rect x="679.20" y="1355.98" width="1.62" height="41.28" fill="#000161"/>
<rect x="727.18" y="1355.98" width="1.62" height="41.28" fill="#000161"/>
<rect x="680.82" y="1354.50" width="46.35" height="1.48" fill="#000161"/>
<rect x="728.40" y="1355.98" width="1.62" height="41.28" fill="#000064"/>
<rect x="730.02" y="1354.50" width="46.26" height="1.48" fill="#000064"/>
<rect x="781.51" y="1354.50" width="43.78" height="1.48" fill="#00005f"/>
<rect x="830.51" y="1354.50" width="43.98" height="1.48" fill="#00015e"/>
<rect x="879.71" y="1354.50" width="43.58" height="1.48" fill="#000064"/>
<rect x="928.51" y="1354.50" width="43.78" height="1.48" fill="#000064"/>
<rect x="1023.98" y="1355.98" width="1.62" height="41.28" fill="#00015e"/>
<rect x="977.51" y="1354.50" width="46.46" height="1.48" fill="#00015e"/>
<rect x="1025.20" y="1355.98" width="1.62" height="41.28" fill="#000161"/>
<rect x="1026.83" y="1354.50" width="46.26" height="1.48" fill="#000161"/>
<rect x="1078.31" y="1354.50" width="43.78" height="1.48" fill="#000064"/>
<rect x="1127.31" y="1354.50" width="43.67" height="1.48" fill="#000161"/>
<rect x="1176.21" y="1354.50" width="44.18" height="1.48" fill="#000259"/>
<rect x="1225.61" y="1354.50" width="43.48" height="1.48" fill="#000161"/>
<rect x="1274.31" y="1354.50" width="43.58" height="1.48" fill="#00015e"/>
<rect x="1369.58" y="1355.98" width="1.62" height="41.28" fill="#000255"/>
<rect x="1323.11" y="1354.50" width="46.46" height="1.48" fill="#000255"/>
<rect x="1370.80" y="1355.98" width="1.62" height="41.28" fill="#000161"/>
<rect x="1372.42" y="1354.50" width="46.26" height="1.48" fill="#000161"/>
<rect x="1423.91" y="1354.50" width="43.88" height="1.48" fill="#000059"/>
<rect x="1473.01" y="1354.50" width="43.78" height="1.48" fill="#000064"/>
<rect x="1522.01" y="1354.50" width="44.08" height="1.48" fill="#000250"/>
<rect x="1571.31" y="1354.50" width="43.38" height="1.48" fill="#000250"/>
<rect x="381.77" y="1401.73" width="1.62" height="40.86" fill="#00005b"/>
<rect x="383.00" y="1401.73" width="1.62" height="40.86" fill="#000064"/>
<rect x="677.98" y="1401.73" width="1.62" height="40.86" fill="#000161"/>
<rect x="679.20" y="1401.73" width="1.62" height="40.86" fill="#000259"/>
<rect x="727.18" y="1401.73" width="1.62" height="40.86" fill="#000259"/>
<rect x="728.40" y="1401.73" width="1.62" height="40.86" fill="#000064"/>
<rect x="1023.98" y="1401.73" width="1.62" height="40.86" fill="#000255"/>
<rect x="1025.20" y="1401.73" width="1.62" height="40.86" fill="#000259"/>
<rect x="1369.58" y="1401.73" width="1.62" height="40.86" fill="#000255"/>
<rect x="1370.80" y="1401.73" width="1.62" height="40.86" fill="#000161"/>
<rect x="381.77" y="1447.81" width="1.62" height="38.70" fill="#000255"/>
<rect x="383.00" y="1447.81" width="1.62" height="38.70" fill="#000251"/>
<rect x="677.98" y="1447.81" width="1.62" height="38.70" fill="#000255"/>
<rect x="679.20" y="1447.81" width="1.62" height="38.70" fill="#00015e"/>
<rect x="727.18" y="1447.81" width="1.62" height="38.70" fill="#00015e"/>
<rect x="728.40" y="1447.81" width="1.62" height="38.70" fill="#000161"/>
<rect x="1023.98" y="1447.81" width="1.62" height="38.70" fill="#000251"/>
<rect x="1025.20" y="1447.81" width="1.62" height="38.70" fill="#00015c"/>
<rect x="1369.58" y="1447.81" width="1.62" height="38.70" fill="#00015e"/>
<rect x="1370.80" y="1447.81" width="1.62" height="38.70" fill="#00005f"/>
<rect x="1666.28" y="1447.81" width="1.62" height="38.70" fill="#00004e"/>
<rect x="1667.50" y="1447.81" width="1.62" height="38.70" fill="#00004a"/>
<rect x="1714.98" y="1447.81" width="1.62" height="38.70" fill="#00004a"/>
<rect x="1716.20" y="1447.81" width="1.62" height="38.70" fill="#00004e"/>
<rect x="381.77" y="1490.88" width="1.62" height="40.83" fill="#000254"/>
<rect x="383.00" y="1490.88" width="1.62" height="40.83" fill="#000250"/>
<rect x="677.98" y="1490.88" width="1.62" height="40.83" fill="#000064"/>
<rect x="679.20" y="1490.88" width="1.62" height="40.83" fill="#000064"/>
<rect x="727.18" y="1490.88" width="1.62" height="40.83" fill="#000064"/>
<rect x="728.40" y="1490.88" width="1.62" height="40.83" fill="#00005d"/>
<rect x="1023.98" y="1490.88" width="1.62" height="40.83" fill="#000254"/>
<rect x="1025.20" y="1490.88" width="1.62" height="40.83" fill="#000255"/>
<rect x="1369.58" y="1490.88" width="1.62" height="40.83" fill="#00005d"/>
<rect x="1370.80" y="1490.88" width="1.62" height="40.83" fill="#000054"/>
<rect x="1666.28" y="1490.88" width="1.62" height="40.83" fill="#00004c"/>
<rect x="1667.50" y="1490.88" width="1.62" height="40.83" fill="#00004c"/>
<rect x="1714.98" y="1490.88" width="1.62" height="40.83" fill="#00004c"/>
<rect x="1716.20" y="1490.88" width="1.62" height="40.83" fill="#00004e"/>
<rect x="1274.3" y="1042.0" width="46.4" height="176.3" rx="3" fill="none" style="stroke:#e8202c;stroke-opacity:.3;stroke-width:6.6px"/>
<rect x="1274.3" y="1042.0" width="46.4" height="176.3" rx="2.5" fill="none" style="stroke:#ee1a26;stroke-opacity:.88;stroke-width:3.4px"/>
</g>
<g>
<rect x="1508.50" y="207.48" width="94.30" height="37.72" fill="#000000"/>
<rect x="1508.50" y="244.60" width="94.30" height="34.60" fill="#080000"/>
<rect x="1508.50" y="278.60" width="94.30" height="35.50" fill="#2f0000"/>
<rect x="1508.50" y="313.50" width="94.30" height="35.30" fill="#2f0000"/>
<rect x="1508.50" y="348.20" width="94.30" height="34.80" fill="#2f0000"/>
<rect x="1508.50" y="382.40" width="94.30" height="35.20" fill="#2f0000"/>
<rect x="1508.50" y="417.00" width="94.30" height="35.00" fill="#2f0000"/>
<rect x="1508.50" y="451.40" width="94.30" height="35.40" fill="#250500"/>
<rect x="1508.50" y="486.20" width="94.30" height="36.20" fill="#101000"/>
<rect x="1508.50" y="521.80" width="94.30" height="35.50" fill="#001800"/>
<rect x="1508.50" y="556.70" width="94.30" height="36.40" fill="#001705"/>
<rect x="1508.50" y="592.50" width="94.30" height="35.40" fill="#001608"/>
<rect x="1508.50" y="627.30" width="94.30" height="34.80" fill="#00150c"/>
<rect x="1508.50" y="661.50" width="94.30" height="35.30" fill="#001511"/>
<rect x="1508.50" y="696.20" width="94.30" height="35.60" fill="#001124"/>
<rect x="1508.50" y="731.20" width="94.30" height="34.90" fill="#00003b"/>
<rect x="1508.50" y="765.50" width="94.30" height="35.10" fill="#00003b"/>
<rect x="1508.50" y="800.00" width="94.30" height="34.90" fill="#00003b"/>
<rect x="1508.50" y="834.30" width="94.30" height="35.30" fill="#00003b"/>
<rect x="1508.50" y="869.00" width="94.30" height="36.00" fill="#000036"/>
<rect x="1508.50" y="904.40" width="94.30" height="34.90" fill="#000028"/>
<rect x="1508.50" y="938.70" width="94.30" height="36.57" fill="#00001e"/>
<rect x="1511.10" y="210.08" width="89.10" height="32.21" fill="#960000" stroke="#000000"/>
<rect x="1511.10" y="247.51" width="89.10" height="28.77" fill="#CC0000" stroke="#080000"/>
<rect x="1511.10" y="281.51" width="89.10" height="29.68" fill="#FF0000" stroke="#2f0000"/>
<rect x="1511.10" y="316.41" width="89.10" height="29.47" fill="#FF0800" stroke="#2f0000"/>
<rect x="1511.10" y="351.11" width="89.10" height="28.97" fill="#FF3800" stroke="#2f0000"/>
<rect x="1511.10" y="385.31" width="89.10" height="29.61" fill="#FF7000" stroke="#2f0000"/>
<rect x="1511.10" y="419.68" width="89.10" height="29.41" fill="#FFA000" stroke="#2f0000"/>
<rect x="1511.10" y="454.31" width="89.10" height="29.57" fill="#FFCC00" stroke="#250500"/>
<rect x="1511.10" y="489.11" width="89.10" height="31.66" fill="#FFFF00" stroke="#101000"/>
<rect x="1511.10" y="523.43" width="89.10" height="32.24" fill="#BBFF00" stroke="#001800"/>
<rect x="1511.10" y="558.33" width="89.10" height="31.81" fill="#55FF44" stroke="#001705"/>
<rect x="1511.10" y="595.46" width="89.10" height="29.53" fill="#00FF6E" stroke="#001608"/>
<rect x="1511.10" y="630.21" width="89.10" height="28.98" fill="#00FFAA" stroke="#00150c"/>
<rect x="1511.10" y="664.41" width="89.10" height="29.48" fill="#00FFEE" stroke="#001511"/>
<rect x="1511.10" y="699.11" width="89.10" height="30.01" fill="#00E0FF" stroke="#001124"/>
<rect x="1511.10" y="733.88" width="89.10" height="29.55" fill="#00AAFF" stroke="#00003b"/>
<rect x="1511.10" y="768.17" width="89.10" height="29.51" fill="#0078FF" stroke="#00003b"/>
<rect x="1511.10" y="802.91" width="89.10" height="29.08" fill="#0048FF" stroke="#00003b"/>
<rect x="1511.10" y="837.21" width="89.10" height="29.48" fill="#0018FF" stroke="#00003b"/>
<rect x="1511.10" y="871.91" width="89.10" height="31.55" fill="#0000FA" stroke="#000036"/>
<rect x="1511.10" y="905.94" width="89.10" height="31.83" fill="#0000C8" stroke="#000028"/>
<rect x="1511.10" y="940.24" width="89.10" height="32.43" fill="#000096" stroke="#00001e"/>
<rect x="1603" y="223.9" width="36.5" height="2.8" fill="#000"/>
<rect x="1603" y="293.5" width="36.5" height="2.8" fill="#000"/>
<rect x="1603" y="363.1" width="36.5" height="2.8" fill="#000"/>
<rect x="1603" y="433.6" width="36.5" height="2.8" fill="#000"/>
<rect x="1603" y="503.9" width="36.5" height="2.8" fill="#000"/>
<rect x="1603" y="573.0" width="36.5" height="2.8" fill="#000"/>
<rect x="1603" y="642.0" width="36.5" height="2.8" fill="#000"/>
<rect x="1603" y="711.1" width="36.5" height="2.8" fill="#000"/>
<rect x="1603" y="781.6" width="36.5" height="2.8" fill="#000"/>
<rect x="1603" y="851.6" width="36.5" height="2.8" fill="#000"/>
<rect x="1603" y="921.0" width="36.5" height="2.8" fill="#000"/>
</g>
<g>
<text x="1643.6" y="249.6" font-size="35.3" textLength="60.5" lengthAdjust="spacingAndGlyphs">100</text>
<text x="1643.6" y="319.2" font-size="35.3" textLength="39.6" lengthAdjust="spacingAndGlyphs">94</text>
<text x="1643.6" y="387.7" font-size="35.3" textLength="39.6" lengthAdjust="spacingAndGlyphs">88</text>
<text x="1643.6" y="457.3" font-size="35.3" textLength="39.6" lengthAdjust="spacingAndGlyphs">83</text>
<text x="1643.6" y="526.9" font-size="35.3" textLength="39.6" lengthAdjust="spacingAndGlyphs">77</text>
<text x="1643.6" y="595.3" font-size="35.3" textLength="39.6" lengthAdjust="spacingAndGlyphs">71</text>
<text x="1643.6" y="666.2" font-size="35.3" textLength="39.6" lengthAdjust="spacingAndGlyphs">65</text>
<text x="1643.6" y="735.7" font-size="35.3" textLength="39.6" lengthAdjust="spacingAndGlyphs">59</text>
<text x="1643.6" y="805.3" font-size="35.3" textLength="39.6" lengthAdjust="spacingAndGlyphs">54</text>
<text x="1643.6" y="874.9" font-size="35.3" textLength="39.6" lengthAdjust="spacingAndGlyphs">48</text>
<text x="1643.6" y="943.4" font-size="35.3" textLength="39.6" lengthAdjust="spacingAndGlyphs">42</text>
<text class="n" x="1389.6" y="175.5" font-size="40" textLength="401" lengthAdjust="spacingAndGlyphs">Pairwise identity (%)</text>
<text class="n" x="183.4" y="97.8" font-size="70.6" textLength="91.6" lengthAdjust="spacingAndGlyphs">(A)</text>
<rect x="197.1" y="996.4" width="103.9" height="51.4" fill="#ffc000"/>
<rect x="1277.7" y="1563.5" width="51.1" height="111.9" fill="#ffc000"/>
<text x="111.3" y="186.8" font-size="35.6" textLength="195.7" lengthAdjust="spacingAndGlyphs">QVW10166</text>
<text x="120.2" y="229.9" font-size="35.6" textLength="186.3" lengthAdjust="spacingAndGlyphs">QQG34575</text>
<text x="135.4" y="275.5" font-size="35.6" textLength="171.1" lengthAdjust="spacingAndGlyphs">UKS50963</text>
<text x="58.9" y="319.3" font-size="35.6" textLength="247.6" lengthAdjust="spacingAndGlyphs">YP<tspan>_</tspan>009357226</text>
<text x="137.9" y="364.9" font-size="35.6" textLength="170.9" lengthAdjust="spacingAndGlyphs">DAZ85793</text>
<text x="115.1" y="413.5" font-size="35.6" textLength="196.5" lengthAdjust="spacingAndGlyphs">WLW42345</text>
<text x="134.1" y="454.0" font-size="35.6" textLength="172.9" lengthAdjust="spacingAndGlyphs">QYF50226</text>
<text x="134.1" y="497.0" font-size="35.6" textLength="172.9" lengthAdjust="spacingAndGlyphs">QYF50231</text>
<text x="58.9" y="542.6" font-size="35.6" textLength="248.1" lengthAdjust="spacingAndGlyphs">YP<tspan>_</tspan>001655010</text>
<text x="113.8" y="588.7" font-size="35.6" textLength="188.2" lengthAdjust="spacingAndGlyphs">YP<tspan>_</tspan>224134</text>
<text x="113.8" y="631.8" font-size="35.6" textLength="188.2" lengthAdjust="spacingAndGlyphs">YP<tspan>_</tspan>446992</text>
<text x="140.4" y="677.4" font-size="35.6" textLength="166.6" lengthAdjust="spacingAndGlyphs">QJX15749</text>
<text x="137.9" y="721.2" font-size="35.6" textLength="162.8" lengthAdjust="spacingAndGlyphs">QJZ28428</text>
<text x="134.1" y="766.8" font-size="35.6" textLength="172.9" lengthAdjust="spacingAndGlyphs">QYF50236</text>
<text x="135.4" y="810.3" font-size="35.6" textLength="171.6" lengthAdjust="spacingAndGlyphs">UZP17221</text>
<text x="58.9" y="856.4" font-size="35.6" textLength="248.1" lengthAdjust="spacingAndGlyphs">YP<tspan>_</tspan>010087744</text>
<text x="120.2" y="902.0" font-size="35.6" textLength="186.8" lengthAdjust="spacingAndGlyphs">QQG34570</text>
<text x="137.4" y="945.8" font-size="35.6" textLength="167.1" lengthAdjust="spacingAndGlyphs">AJD23371</text>
<text x="120.2" y="991.4" font-size="35.6" textLength="186.8" lengthAdjust="spacingAndGlyphs">QQG34565</text>
<text x="218.9" y="1035.6" font-size="35.6" textLength="85.6" lengthAdjust="spacingAndGlyphs" class="h">HiVX</text>
<text x="134.0" y="1081.8" font-size="35.6" textLength="173.2" lengthAdjust="spacingAndGlyphs">QYF50142</text>
<text x="120.2" y="1124.6" font-size="35.6" textLength="186.4" lengthAdjust="spacingAndGlyphs">QQG34620</text>
<text x="120.2" y="1170.0" font-size="35.6" textLength="185.6" lengthAdjust="spacingAndGlyphs">QQG34613</text>
<text x="135.6" y="1213.7" font-size="35.6" textLength="171.6" lengthAdjust="spacingAndGlyphs">UEP18564</text>
<text x="127.1" y="1259.8" font-size="35.6" textLength="176.8" lengthAdjust="spacingAndGlyphs">UOF93375</text>
<text x="138.4" y="1302.4" font-size="35.6" textLength="166.0" lengthAdjust="spacingAndGlyphs">UCJ00968</text>
<text x="134.0" y="1348.3" font-size="35.6" textLength="169.9" lengthAdjust="spacingAndGlyphs">QIN54693</text>
<text x="58.7" y="1392.6" font-size="35.6" textLength="247.9" lengthAdjust="spacingAndGlyphs">YP<tspan>_</tspan>009552762</text>
<text x="113.6" y="1437.9" font-size="35.6" textLength="190.8" lengthAdjust="spacingAndGlyphs">ABW25048</text>
<text x="134.0" y="1483.0" font-size="35.6" textLength="172.6" lengthAdjust="spacingAndGlyphs">QYF50145</text>
<text x="134.0" y="1527.8" font-size="35.6" textLength="172.6" lengthAdjust="spacingAndGlyphs">QYF50156</text>
<text transform="translate(375.0,1751.0) rotate(-90) scale(1,1.03)" font-size="35.6" textLength="191.3" lengthAdjust="spacingAndGlyphs" class="n">QVW10166</text>
<text transform="translate(427.5,1742.5) rotate(-90) scale(1,1.03)" font-size="35.6" textLength="182.8" lengthAdjust="spacingAndGlyphs" class="n">QQG34575</text>
<text transform="translate(476.6,1728.3) rotate(-90) scale(1,1.03)" font-size="35.6" textLength="168.6" lengthAdjust="spacingAndGlyphs" class="n">UKS50963</text>
<text transform="translate(522.6,1816.4) rotate(-90) scale(1,1.03)" font-size="35.6" textLength="244.8" lengthAdjust="spacingAndGlyphs" class="n">YP<tspan>_</tspan>009357226</text>
<text transform="translate(574.3,1726.9) rotate(-90) scale(1,1.03)" font-size="35.6" textLength="167.2" lengthAdjust="spacingAndGlyphs" class="n">DAZ85793</text>
<text transform="translate(623.4,1746.8) rotate(-90) scale(1,1.03)" font-size="35.6" textLength="195.1" lengthAdjust="spacingAndGlyphs" class="n">WLW42345</text>
<text transform="translate(673.1,1726.9) rotate(-90) scale(1,1.03)" font-size="35.6" textLength="167.2" lengthAdjust="spacingAndGlyphs" class="n">QYF50226</text>
<text transform="translate(724.2,1724.6) rotate(-90) scale(1,1.03)" font-size="35.6" textLength="170.0" lengthAdjust="spacingAndGlyphs" class="n">QYF50231</text>
<text transform="translate(768.2,1816.4) rotate(-90) scale(1,1.03)" font-size="35.6" textLength="244.8" lengthAdjust="spacingAndGlyphs" class="n">YP<tspan>_</tspan>001655010</text>
<text transform="translate(822.2,1747.4) rotate(-90) scale(1,1.03)" font-size="35.6" textLength="187.7" lengthAdjust="spacingAndGlyphs" class="n">YP<tspan>_</tspan>224134</text>
<text transform="translate(871.6,1748.2) rotate(-90) scale(1,1.03)" font-size="35.6" textLength="185.7" lengthAdjust="spacingAndGlyphs" class="n">YP<tspan>_</tspan>446992</text>
<text transform="translate(914.7,1724.0) rotate(-90) scale(1,1.03)" font-size="35.6" textLength="161.5" lengthAdjust="spacingAndGlyphs" class="n">QJX15749</text>
<text transform="translate(968.6,1721.0) rotate(-90) scale(1,1.03)" font-size="35.6" textLength="158.5" lengthAdjust="spacingAndGlyphs" class="n">QJZ28428</text>
<text transform="translate(1018.4,1732.6) rotate(-90) scale(1,1.03)" font-size="35.6" textLength="168.1" lengthAdjust="spacingAndGlyphs" class="n">QYF50236</text>
<text transform="translate(1070.9,1729.7) rotate(-90) scale(1,1.03)" font-size="35.6" textLength="170.0" lengthAdjust="spacingAndGlyphs" class="n">UZP17221</text>
<text transform="translate(1116.3,1816.4) rotate(-90) scale(1,1.03)" font-size="35.6" textLength="246.2" lengthAdjust="spacingAndGlyphs" class="n">YP<tspan>_</tspan>010087744</text>
<text transform="translate(1168.3,1747.4) rotate(-90) scale(1,1.03)" font-size="35.6" textLength="182.9" lengthAdjust="spacingAndGlyphs" class="n">QQG34570</text>
<text transform="translate(1214.3,1725.5) rotate(-90) scale(1,1.03)" font-size="35.6" textLength="165.8" lengthAdjust="spacingAndGlyphs" class="n">AJD23371</text>
<text transform="translate(1265.4,1747.4) rotate(-90) scale(1,1.03)" font-size="35.6" textLength="182.9" lengthAdjust="spacingAndGlyphs" class="n">QQG34565</text>
<text transform="translate(1319.9,1647.4) rotate(-90) scale(1,1.03)" font-size="35.6" textLength="84.9" lengthAdjust="spacingAndGlyphs" class="h">HiVX</text>
<text transform="translate(1365.5,1736.6) rotate(-90) scale(1,1.03)" font-size="35.6" textLength="168.4" lengthAdjust="spacingAndGlyphs" class="n">QYF50142</text>
<text transform="translate(1412.9,1748.3) rotate(-90) scale(1,1.03)" font-size="35.6" textLength="183.2" lengthAdjust="spacingAndGlyphs" class="n">QQG34620</text>
<text transform="translate(1464.9,1748.3) rotate(-90) scale(1,1.03)" font-size="35.6" textLength="183.2" lengthAdjust="spacingAndGlyphs" class="n">QQG34613</text>
<text transform="translate(1513.0,1734.5) rotate(-90) scale(1,1.03)" font-size="35.6" textLength="171.8" lengthAdjust="spacingAndGlyphs" class="n">UEP18564</text>
<text transform="translate(1562.9,1745.2) rotate(-90) scale(1,1.03)" font-size="35.6" textLength="173.4" lengthAdjust="spacingAndGlyphs" class="n">UOF93375</text>
<text transform="translate(1611.8,1734.5) rotate(-90) scale(1,1.03)" font-size="35.6" textLength="162.7" lengthAdjust="spacingAndGlyphs" class="n">UCJ00968</text>
<text transform="translate(1659.9,1736.0) rotate(-90) scale(1,1.03)" font-size="35.6" textLength="164.2" lengthAdjust="spacingAndGlyphs" class="n">QIN54693</text>
<text transform="translate(1707.6,1817.1) rotate(-90) scale(1,1.03)" font-size="35.6" textLength="246.8" lengthAdjust="spacingAndGlyphs" class="n">YP<tspan>_</tspan>009552762</text>
<text transform="translate(1761.2,1748.9) rotate(-90) scale(1,1.03)" font-size="35.6" textLength="186.9" lengthAdjust="spacingAndGlyphs" class="n">ABW25048</text>
<text transform="translate(1810.1,1736.6) rotate(-90) scale(1,1.03)" font-size="35.6" textLength="167.8" lengthAdjust="spacingAndGlyphs" class="n">QYF50145</text>
<text transform="translate(1858.8,1731.4) rotate(-90) scale(1,1.03)" font-size="35.6" textLength="168.7" lengthAdjust="spacingAndGlyphs" class="n">QYF50156</text>
</g>
</svg></body></html>
